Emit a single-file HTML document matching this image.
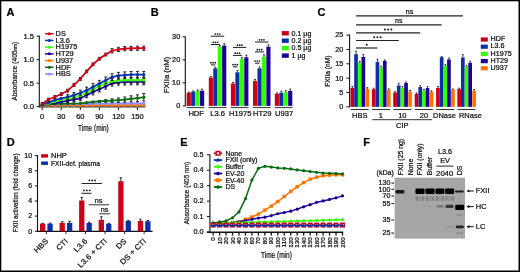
<!DOCTYPE html>
<html><head><meta charset="utf-8"><title>Figure</title>
<style>
html,body{margin:0;padding:0;background:#fff;}
body{width:520px;height:272px;overflow:hidden;font-family:"Liberation Sans", sans-serif;}
svg{display:block;}
svg text{font-family:"Liberation Sans", sans-serif;stroke:#111;stroke-width:0.22px;}
svg{will-change:transform;}
</style></head><body>
<svg width="520" height="272" viewBox="0 0 520 272" font-family='"Liberation Sans", sans-serif'>
<defs><filter id="blur" x="-10%" y="-50%" width="120%" height="200%"><feGaussianBlur stdDeviation="0.75"/></filter></defs>
<rect x="0.00" y="0.00" width="520.00" height="272.00" fill="#fff"/>
<text x="6.40" y="15.90" font-size="10" text-anchor="start" fill="#000" font-weight="bold" transform="translate(6.40 15.90) scale(1.1 1) translate(-6.40 -15.90)">A</text>
<line x1="39.30" y1="35.60" x2="39.30" y2="107.20" stroke="#111" stroke-width="1.1"/>
<line x1="36.60" y1="106.60" x2="39.30" y2="106.60" stroke="#111" stroke-width="1.0"/>
<text x="34.00" y="108.98" font-size="6.8" text-anchor="end" fill="#0e0e0e" transform="translate(34.00 108.98) scale(1.12 1) translate(-34.00 -108.98)">0.0</text>
<line x1="36.60" y1="83.15" x2="39.30" y2="83.15" stroke="#111" stroke-width="1.0"/>
<text x="34.00" y="85.53" font-size="6.8" text-anchor="end" fill="#0e0e0e" transform="translate(34.00 85.53) scale(1.12 1) translate(-34.00 -85.53)">0.5</text>
<line x1="36.60" y1="59.70" x2="39.30" y2="59.70" stroke="#111" stroke-width="1.0"/>
<text x="34.00" y="62.08" font-size="6.8" text-anchor="end" fill="#0e0e0e" transform="translate(34.00 62.08) scale(1.12 1) translate(-34.00 -62.08)">1.0</text>
<line x1="36.60" y1="36.25" x2="39.30" y2="36.25" stroke="#111" stroke-width="1.0"/>
<text x="34.00" y="38.63" font-size="6.8" text-anchor="end" fill="#0e0e0e" transform="translate(34.00 38.63) scale(1.12 1) translate(-34.00 -38.63)">1.5</text>
<line x1="38.80" y1="106.90" x2="145.50" y2="106.90" stroke="#333" stroke-width="1.1"/>
<line x1="42.20" y1="106.90" x2="42.20" y2="110.00" stroke="#111" stroke-width="1.0"/>
<text x="42.20" y="118.58" font-size="6.8" text-anchor="middle" fill="#0e0e0e" transform="translate(42.20 118.58) scale(1.1 1) translate(-42.20 -118.58)">0</text>
<line x1="61.25" y1="106.90" x2="61.25" y2="110.00" stroke="#111" stroke-width="1.0"/>
<text x="61.25" y="118.58" font-size="6.8" text-anchor="middle" fill="#0e0e0e" transform="translate(61.25 118.58) scale(1.1 1) translate(-61.25 -118.58)">30</text>
<line x1="80.30" y1="106.90" x2="80.30" y2="110.00" stroke="#111" stroke-width="1.0"/>
<text x="80.30" y="118.58" font-size="6.8" text-anchor="middle" fill="#0e0e0e" transform="translate(80.30 118.58) scale(1.1 1) translate(-80.30 -118.58)">60</text>
<line x1="99.35" y1="106.90" x2="99.35" y2="110.00" stroke="#111" stroke-width="1.0"/>
<text x="99.35" y="118.58" font-size="6.8" text-anchor="middle" fill="#0e0e0e" transform="translate(99.35 118.58) scale(1.1 1) translate(-99.35 -118.58)">90</text>
<line x1="118.40" y1="106.90" x2="118.40" y2="110.00" stroke="#111" stroke-width="1.0"/>
<text x="118.40" y="118.58" font-size="6.8" text-anchor="middle" fill="#0e0e0e" transform="translate(118.40 118.58) scale(1.1 1) translate(-118.40 -118.58)">120</text>
<line x1="137.45" y1="106.90" x2="137.45" y2="110.00" stroke="#111" stroke-width="1.0"/>
<text x="137.45" y="118.58" font-size="6.8" text-anchor="middle" fill="#0e0e0e" transform="translate(137.45 118.58) scale(1.1 1) translate(-137.45 -118.58)">150</text>
<text x="93.40" y="130.68" font-size="8.5" text-anchor="middle" fill="#0e0e0e" textLength="30.60" lengthAdjust="spacingAndGlyphs">Time (min)</text>
<text x="14.6" y="71.2" font-size="7.8" text-anchor="middle" fill="#0e0e0e" transform="rotate(-90 14.6 71.2) translate(0 2.8)" textLength="58.8" lengthAdjust="spacingAndGlyphs">Absorbance (405<tspan font-size="5.6">nm</tspan>)</text>
<polyline points="42.20,105.19 48.55,105.19 54.90,105.19 61.25,105.19 67.60,105.19 73.95,105.19 80.30,105.19 86.65,105.19 93.00,105.19 99.35,105.19 105.70,105.19 112.05,105.19 118.40,105.19 124.75,105.19 131.10,105.19 137.45,105.19 143.80,105.19" fill="none" stroke="#ff7300" stroke-width="1.7" stroke-linejoin="round"/>
<polygon points="42.20,102.99 44.40,105.19 42.20,107.39 40.00,105.19" fill="#ff7300"/>
<polygon points="48.55,102.99 50.75,105.19 48.55,107.39 46.35,105.19" fill="#ff7300"/>
<polygon points="54.90,102.99 57.10,105.19 54.90,107.39 52.70,105.19" fill="#ff7300"/>
<polygon points="61.25,102.99 63.45,105.19 61.25,107.39 59.05,105.19" fill="#ff7300"/>
<polygon points="67.60,102.99 69.80,105.19 67.60,107.39 65.40,105.19" fill="#ff7300"/>
<polygon points="73.95,102.99 76.15,105.19 73.95,107.39 71.75,105.19" fill="#ff7300"/>
<polygon points="80.30,102.99 82.50,105.19 80.30,107.39 78.10,105.19" fill="#ff7300"/>
<polygon points="86.65,102.99 88.85,105.19 86.65,107.39 84.45,105.19" fill="#ff7300"/>
<polygon points="93.00,102.99 95.20,105.19 93.00,107.39 90.80,105.19" fill="#ff7300"/>
<polygon points="99.35,102.99 101.55,105.19 99.35,107.39 97.15,105.19" fill="#ff7300"/>
<polygon points="105.70,102.99 107.90,105.19 105.70,107.39 103.50,105.19" fill="#ff7300"/>
<polygon points="112.05,102.99 114.25,105.19 112.05,107.39 109.85,105.19" fill="#ff7300"/>
<polygon points="118.40,102.99 120.60,105.19 118.40,107.39 116.20,105.19" fill="#ff7300"/>
<polygon points="124.75,102.99 126.95,105.19 124.75,107.39 122.55,105.19" fill="#ff7300"/>
<polygon points="131.10,102.99 133.30,105.19 131.10,107.39 128.90,105.19" fill="#ff7300"/>
<polygon points="137.45,102.99 139.65,105.19 137.45,107.39 135.25,105.19" fill="#ff7300"/>
<polygon points="143.80,102.99 146.00,105.19 143.80,107.39 141.60,105.19" fill="#ff7300"/>
<polyline points="42.20,104.49 48.55,104.35 54.90,104.25 61.25,104.16 67.60,104.07 73.95,103.97 80.30,103.88 86.65,103.79 93.00,103.69 99.35,103.60 105.70,103.55 112.05,103.50 118.40,103.46 124.75,103.41 131.10,103.41 137.45,103.41 143.80,103.41" fill="none" stroke="#8c8cff" stroke-width="1.7" stroke-linejoin="round"/>
<circle cx="42.20" cy="104.49" r="1.6" fill="#8c8cff"/>
<circle cx="48.55" cy="104.35" r="1.6" fill="#8c8cff"/>
<circle cx="54.90" cy="104.25" r="1.6" fill="#8c8cff"/>
<circle cx="61.25" cy="104.16" r="1.6" fill="#8c8cff"/>
<circle cx="67.60" cy="104.07" r="1.6" fill="#8c8cff"/>
<circle cx="73.95" cy="103.97" r="1.6" fill="#8c8cff"/>
<circle cx="80.30" cy="103.88" r="1.6" fill="#8c8cff"/>
<circle cx="86.65" cy="103.79" r="1.6" fill="#8c8cff"/>
<circle cx="93.00" cy="103.69" r="1.6" fill="#8c8cff"/>
<circle cx="99.35" cy="103.60" r="1.6" fill="#8c8cff"/>
<circle cx="105.70" cy="103.55" r="1.6" fill="#8c8cff"/>
<circle cx="112.05" cy="103.50" r="1.6" fill="#8c8cff"/>
<circle cx="118.40" cy="103.46" r="1.6" fill="#8c8cff"/>
<circle cx="124.75" cy="103.41" r="1.6" fill="#8c8cff"/>
<circle cx="131.10" cy="103.41" r="1.6" fill="#8c8cff"/>
<circle cx="137.45" cy="103.41" r="1.6" fill="#8c8cff"/>
<circle cx="143.80" cy="103.41" r="1.6" fill="#8c8cff"/>
<line x1="99.35" y1="100.50" x2="99.35" y2="102.38" stroke="#111" stroke-width="0.9"/>
<line x1="97.85" y1="100.50" x2="100.85" y2="100.50" stroke="#111" stroke-width="0.9"/>
<line x1="97.85" y1="102.38" x2="100.85" y2="102.38" stroke="#111" stroke-width="0.9"/>
<line x1="105.70" y1="99.63" x2="105.70" y2="102.31" stroke="#111" stroke-width="0.9"/>
<line x1="104.20" y1="99.63" x2="107.20" y2="99.63" stroke="#111" stroke-width="0.9"/>
<line x1="104.20" y1="102.31" x2="107.20" y2="102.31" stroke="#111" stroke-width="0.9"/>
<line x1="112.05" y1="98.85" x2="112.05" y2="102.34" stroke="#111" stroke-width="0.9"/>
<line x1="110.55" y1="98.85" x2="113.55" y2="98.85" stroke="#111" stroke-width="0.9"/>
<line x1="110.55" y1="102.34" x2="113.55" y2="102.34" stroke="#111" stroke-width="0.9"/>
<line x1="118.40" y1="97.98" x2="118.40" y2="102.27" stroke="#111" stroke-width="0.9"/>
<line x1="116.90" y1="97.98" x2="119.90" y2="97.98" stroke="#111" stroke-width="0.9"/>
<line x1="116.90" y1="102.27" x2="119.90" y2="102.27" stroke="#111" stroke-width="0.9"/>
<line x1="124.75" y1="97.02" x2="124.75" y2="102.11" stroke="#111" stroke-width="0.9"/>
<line x1="123.25" y1="97.02" x2="126.25" y2="97.02" stroke="#111" stroke-width="0.9"/>
<line x1="123.25" y1="102.11" x2="126.25" y2="102.11" stroke="#111" stroke-width="0.9"/>
<line x1="131.10" y1="95.87" x2="131.10" y2="101.76" stroke="#111" stroke-width="0.9"/>
<line x1="129.60" y1="95.87" x2="132.60" y2="95.87" stroke="#111" stroke-width="0.9"/>
<line x1="129.60" y1="101.76" x2="132.60" y2="101.76" stroke="#111" stroke-width="0.9"/>
<line x1="137.45" y1="94.81" x2="137.45" y2="101.51" stroke="#111" stroke-width="0.9"/>
<line x1="135.95" y1="94.81" x2="138.95" y2="94.81" stroke="#111" stroke-width="0.9"/>
<line x1="135.95" y1="101.51" x2="138.95" y2="101.51" stroke="#111" stroke-width="0.9"/>
<line x1="143.80" y1="93.47" x2="143.80" y2="100.97" stroke="#111" stroke-width="0.9"/>
<line x1="142.30" y1="93.47" x2="145.30" y2="93.47" stroke="#111" stroke-width="0.9"/>
<line x1="142.30" y1="100.97" x2="145.30" y2="100.97" stroke="#111" stroke-width="0.9"/>
<polyline points="42.20,104.72 48.55,104.25 54.90,103.79 61.25,103.69 67.60,103.60 73.95,103.50 80.30,103.32 86.65,102.61 93.00,101.91 99.35,101.44 105.70,100.97 112.05,100.60 118.40,100.13 124.75,99.56 131.10,98.81 137.45,98.16 143.80,97.22" fill="none" stroke="#0b6b12" stroke-width="1.7" stroke-linejoin="round"/>
<circle cx="42.20" cy="104.72" r="1.6" fill="#0b6b12"/>
<circle cx="48.55" cy="104.25" r="1.6" fill="#0b6b12"/>
<circle cx="54.90" cy="103.79" r="1.6" fill="#0b6b12"/>
<circle cx="61.25" cy="103.69" r="1.6" fill="#0b6b12"/>
<circle cx="67.60" cy="103.60" r="1.6" fill="#0b6b12"/>
<circle cx="73.95" cy="103.50" r="1.6" fill="#0b6b12"/>
<circle cx="80.30" cy="103.32" r="1.6" fill="#0b6b12"/>
<circle cx="86.65" cy="102.61" r="1.6" fill="#0b6b12"/>
<circle cx="93.00" cy="101.91" r="1.6" fill="#0b6b12"/>
<circle cx="99.35" cy="101.44" r="1.6" fill="#0b6b12"/>
<circle cx="105.70" cy="100.97" r="1.6" fill="#0b6b12"/>
<circle cx="112.05" cy="100.60" r="1.6" fill="#0b6b12"/>
<circle cx="118.40" cy="100.13" r="1.6" fill="#0b6b12"/>
<circle cx="124.75" cy="99.56" r="1.6" fill="#0b6b12"/>
<circle cx="131.10" cy="98.81" r="1.6" fill="#0b6b12"/>
<circle cx="137.45" cy="98.16" r="1.6" fill="#0b6b12"/>
<circle cx="143.80" cy="97.22" r="1.6" fill="#0b6b12"/>
<line x1="67.60" y1="98.81" x2="67.60" y2="102.75" stroke="#111" stroke-width="0.9"/>
<line x1="66.10" y1="98.81" x2="69.10" y2="98.81" stroke="#111" stroke-width="0.9"/>
<line x1="66.10" y1="102.75" x2="69.10" y2="102.75" stroke="#111" stroke-width="0.9"/>
<line x1="73.95" y1="97.24" x2="73.95" y2="101.61" stroke="#111" stroke-width="0.9"/>
<line x1="72.45" y1="97.24" x2="75.45" y2="97.24" stroke="#111" stroke-width="0.9"/>
<line x1="72.45" y1="101.61" x2="75.45" y2="101.61" stroke="#111" stroke-width="0.9"/>
<line x1="80.30" y1="96.00" x2="80.30" y2="100.78" stroke="#111" stroke-width="0.9"/>
<line x1="78.80" y1="96.00" x2="81.80" y2="96.00" stroke="#111" stroke-width="0.9"/>
<line x1="78.80" y1="100.78" x2="81.80" y2="100.78" stroke="#111" stroke-width="0.9"/>
<line x1="86.65" y1="92.51" x2="86.65" y2="97.71" stroke="#111" stroke-width="0.9"/>
<line x1="85.15" y1="92.51" x2="88.15" y2="92.51" stroke="#111" stroke-width="0.9"/>
<line x1="85.15" y1="97.71" x2="88.15" y2="97.71" stroke="#111" stroke-width="0.9"/>
<line x1="93.00" y1="89.25" x2="93.00" y2="94.88" stroke="#111" stroke-width="0.9"/>
<line x1="91.50" y1="89.25" x2="94.50" y2="89.25" stroke="#111" stroke-width="0.9"/>
<line x1="91.50" y1="94.88" x2="94.50" y2="94.88" stroke="#111" stroke-width="0.9"/>
<line x1="99.35" y1="86.39" x2="99.35" y2="92.01" stroke="#111" stroke-width="0.9"/>
<line x1="97.85" y1="86.39" x2="100.85" y2="86.39" stroke="#111" stroke-width="0.9"/>
<line x1="97.85" y1="92.01" x2="100.85" y2="92.01" stroke="#111" stroke-width="0.9"/>
<line x1="105.70" y1="83.48" x2="105.70" y2="89.11" stroke="#111" stroke-width="0.9"/>
<line x1="104.20" y1="83.48" x2="107.20" y2="83.48" stroke="#111" stroke-width="0.9"/>
<line x1="104.20" y1="89.11" x2="107.20" y2="89.11" stroke="#111" stroke-width="0.9"/>
<line x1="112.05" y1="80.48" x2="112.05" y2="86.10" stroke="#111" stroke-width="0.9"/>
<line x1="110.55" y1="80.48" x2="113.55" y2="80.48" stroke="#111" stroke-width="0.9"/>
<line x1="110.55" y1="86.10" x2="113.55" y2="86.10" stroke="#111" stroke-width="0.9"/>
<line x1="118.40" y1="79.49" x2="118.40" y2="85.12" stroke="#111" stroke-width="0.9"/>
<line x1="116.90" y1="79.49" x2="119.90" y2="79.49" stroke="#111" stroke-width="0.9"/>
<line x1="116.90" y1="85.12" x2="119.90" y2="85.12" stroke="#111" stroke-width="0.9"/>
<line x1="124.75" y1="79.30" x2="124.75" y2="84.93" stroke="#111" stroke-width="0.9"/>
<line x1="123.25" y1="79.30" x2="126.25" y2="79.30" stroke="#111" stroke-width="0.9"/>
<line x1="123.25" y1="84.93" x2="126.25" y2="84.93" stroke="#111" stroke-width="0.9"/>
<line x1="131.10" y1="79.16" x2="131.10" y2="84.79" stroke="#111" stroke-width="0.9"/>
<line x1="129.60" y1="79.16" x2="132.60" y2="79.16" stroke="#111" stroke-width="0.9"/>
<line x1="129.60" y1="84.79" x2="132.60" y2="84.79" stroke="#111" stroke-width="0.9"/>
<line x1="137.45" y1="79.16" x2="137.45" y2="84.79" stroke="#111" stroke-width="0.9"/>
<line x1="135.95" y1="79.16" x2="138.95" y2="79.16" stroke="#111" stroke-width="0.9"/>
<line x1="135.95" y1="84.79" x2="138.95" y2="84.79" stroke="#111" stroke-width="0.9"/>
<line x1="143.80" y1="79.16" x2="143.80" y2="84.79" stroke="#111" stroke-width="0.9"/>
<line x1="142.30" y1="79.16" x2="145.30" y2="79.16" stroke="#111" stroke-width="0.9"/>
<line x1="142.30" y1="84.79" x2="145.30" y2="84.79" stroke="#111" stroke-width="0.9"/>
<polyline points="42.20,104.72 48.55,104.02 54.90,103.08 61.25,101.91 67.60,100.78 73.95,99.42 80.30,98.39 86.65,95.11 93.00,92.06 99.35,89.20 105.70,86.29 112.05,83.29 118.40,82.31 124.75,82.12 131.10,81.98 137.45,81.98 143.80,81.98" fill="none" stroke="#1e0099" stroke-width="1.7" stroke-linejoin="round"/>
<circle cx="42.20" cy="104.72" r="1.6" fill="#1e0099"/>
<circle cx="48.55" cy="104.02" r="1.6" fill="#1e0099"/>
<circle cx="54.90" cy="103.08" r="1.6" fill="#1e0099"/>
<circle cx="61.25" cy="101.91" r="1.6" fill="#1e0099"/>
<circle cx="67.60" cy="100.78" r="1.6" fill="#1e0099"/>
<circle cx="73.95" cy="99.42" r="1.6" fill="#1e0099"/>
<circle cx="80.30" cy="98.39" r="1.6" fill="#1e0099"/>
<circle cx="86.65" cy="95.11" r="1.6" fill="#1e0099"/>
<circle cx="93.00" cy="92.06" r="1.6" fill="#1e0099"/>
<circle cx="99.35" cy="89.20" r="1.6" fill="#1e0099"/>
<circle cx="105.70" cy="86.29" r="1.6" fill="#1e0099"/>
<circle cx="112.05" cy="83.29" r="1.6" fill="#1e0099"/>
<circle cx="118.40" cy="82.31" r="1.6" fill="#1e0099"/>
<circle cx="124.75" cy="82.12" r="1.6" fill="#1e0099"/>
<circle cx="131.10" cy="81.98" r="1.6" fill="#1e0099"/>
<circle cx="137.45" cy="81.98" r="1.6" fill="#1e0099"/>
<circle cx="143.80" cy="81.98" r="1.6" fill="#1e0099"/>
<line x1="67.60" y1="96.42" x2="67.60" y2="100.36" stroke="#111" stroke-width="0.9"/>
<line x1="66.10" y1="96.42" x2="69.10" y2="96.42" stroke="#111" stroke-width="0.9"/>
<line x1="66.10" y1="100.36" x2="69.10" y2="100.36" stroke="#111" stroke-width="0.9"/>
<line x1="73.95" y1="94.80" x2="73.95" y2="99.17" stroke="#111" stroke-width="0.9"/>
<line x1="72.45" y1="94.80" x2="75.45" y2="94.80" stroke="#111" stroke-width="0.9"/>
<line x1="72.45" y1="99.17" x2="75.45" y2="99.17" stroke="#111" stroke-width="0.9"/>
<line x1="80.30" y1="93.09" x2="80.30" y2="97.88" stroke="#111" stroke-width="0.9"/>
<line x1="78.80" y1="93.09" x2="81.80" y2="93.09" stroke="#111" stroke-width="0.9"/>
<line x1="78.80" y1="97.88" x2="81.80" y2="97.88" stroke="#111" stroke-width="0.9"/>
<line x1="86.65" y1="90.11" x2="86.65" y2="95.32" stroke="#111" stroke-width="0.9"/>
<line x1="85.15" y1="90.11" x2="88.15" y2="90.11" stroke="#111" stroke-width="0.9"/>
<line x1="85.15" y1="95.32" x2="88.15" y2="95.32" stroke="#111" stroke-width="0.9"/>
<line x1="93.00" y1="86.43" x2="93.00" y2="92.06" stroke="#111" stroke-width="0.9"/>
<line x1="91.50" y1="86.43" x2="94.50" y2="86.43" stroke="#111" stroke-width="0.9"/>
<line x1="91.50" y1="92.06" x2="94.50" y2="92.06" stroke="#111" stroke-width="0.9"/>
<line x1="99.35" y1="83.48" x2="99.35" y2="89.11" stroke="#111" stroke-width="0.9"/>
<line x1="97.85" y1="83.48" x2="100.85" y2="83.48" stroke="#111" stroke-width="0.9"/>
<line x1="97.85" y1="89.11" x2="100.85" y2="89.11" stroke="#111" stroke-width="0.9"/>
<line x1="105.70" y1="80.48" x2="105.70" y2="86.10" stroke="#111" stroke-width="0.9"/>
<line x1="104.20" y1="80.48" x2="107.20" y2="80.48" stroke="#111" stroke-width="0.9"/>
<line x1="104.20" y1="86.10" x2="107.20" y2="86.10" stroke="#111" stroke-width="0.9"/>
<line x1="112.05" y1="78.46" x2="112.05" y2="84.09" stroke="#111" stroke-width="0.9"/>
<line x1="110.55" y1="78.46" x2="113.55" y2="78.46" stroke="#111" stroke-width="0.9"/>
<line x1="110.55" y1="84.09" x2="113.55" y2="84.09" stroke="#111" stroke-width="0.9"/>
<line x1="118.40" y1="77.85" x2="118.40" y2="83.48" stroke="#111" stroke-width="0.9"/>
<line x1="116.90" y1="77.85" x2="119.90" y2="77.85" stroke="#111" stroke-width="0.9"/>
<line x1="116.90" y1="83.48" x2="119.90" y2="83.48" stroke="#111" stroke-width="0.9"/>
<line x1="124.75" y1="77.29" x2="124.75" y2="82.92" stroke="#111" stroke-width="0.9"/>
<line x1="123.25" y1="77.29" x2="126.25" y2="77.29" stroke="#111" stroke-width="0.9"/>
<line x1="123.25" y1="82.92" x2="126.25" y2="82.92" stroke="#111" stroke-width="0.9"/>
<line x1="131.10" y1="77.29" x2="131.10" y2="82.92" stroke="#111" stroke-width="0.9"/>
<line x1="129.60" y1="77.29" x2="132.60" y2="77.29" stroke="#111" stroke-width="0.9"/>
<line x1="129.60" y1="82.92" x2="132.60" y2="82.92" stroke="#111" stroke-width="0.9"/>
<line x1="137.45" y1="77.29" x2="137.45" y2="82.92" stroke="#111" stroke-width="0.9"/>
<line x1="135.95" y1="77.29" x2="138.95" y2="77.29" stroke="#111" stroke-width="0.9"/>
<line x1="135.95" y1="82.92" x2="138.95" y2="82.92" stroke="#111" stroke-width="0.9"/>
<line x1="143.80" y1="77.29" x2="143.80" y2="82.92" stroke="#111" stroke-width="0.9"/>
<line x1="142.30" y1="77.29" x2="145.30" y2="77.29" stroke="#111" stroke-width="0.9"/>
<line x1="142.30" y1="82.92" x2="145.30" y2="82.92" stroke="#111" stroke-width="0.9"/>
<polyline points="42.20,104.49 48.55,103.32 54.90,101.44 61.25,99.42 67.60,98.39 73.95,96.99 80.30,95.48 86.65,92.72 93.00,89.25 99.35,86.29 105.70,83.29 112.05,81.27 118.40,80.66 124.75,80.10 131.10,80.10 137.45,80.10 143.80,80.10" fill="none" stroke="#33ff00" stroke-width="1.7" stroke-linejoin="round"/>
<circle cx="42.20" cy="104.49" r="1.6" fill="#33ff00"/>
<circle cx="48.55" cy="103.32" r="1.6" fill="#33ff00"/>
<circle cx="54.90" cy="101.44" r="1.6" fill="#33ff00"/>
<circle cx="61.25" cy="99.42" r="1.6" fill="#33ff00"/>
<circle cx="67.60" cy="98.39" r="1.6" fill="#33ff00"/>
<circle cx="73.95" cy="96.99" r="1.6" fill="#33ff00"/>
<circle cx="80.30" cy="95.48" r="1.6" fill="#33ff00"/>
<circle cx="86.65" cy="92.72" r="1.6" fill="#33ff00"/>
<circle cx="93.00" cy="89.25" r="1.6" fill="#33ff00"/>
<circle cx="99.35" cy="86.29" r="1.6" fill="#33ff00"/>
<circle cx="105.70" cy="83.29" r="1.6" fill="#33ff00"/>
<circle cx="112.05" cy="81.27" r="1.6" fill="#33ff00"/>
<circle cx="118.40" cy="80.66" r="1.6" fill="#33ff00"/>
<circle cx="124.75" cy="80.10" r="1.6" fill="#33ff00"/>
<circle cx="131.10" cy="80.10" r="1.6" fill="#33ff00"/>
<circle cx="137.45" cy="80.10" r="1.6" fill="#33ff00"/>
<circle cx="143.80" cy="80.10" r="1.6" fill="#33ff00"/>
<line x1="67.60" y1="94.69" x2="67.60" y2="99.28" stroke="#111" stroke-width="0.9"/>
<line x1="66.10" y1="94.69" x2="69.10" y2="94.69" stroke="#111" stroke-width="0.9"/>
<line x1="66.10" y1="99.28" x2="69.10" y2="99.28" stroke="#111" stroke-width="0.9"/>
<line x1="73.95" y1="92.57" x2="73.95" y2="97.65" stroke="#111" stroke-width="0.9"/>
<line x1="72.45" y1="92.57" x2="75.45" y2="92.57" stroke="#111" stroke-width="0.9"/>
<line x1="72.45" y1="97.65" x2="75.45" y2="97.65" stroke="#111" stroke-width="0.9"/>
<line x1="80.30" y1="90.21" x2="80.30" y2="95.79" stroke="#111" stroke-width="0.9"/>
<line x1="78.80" y1="90.21" x2="81.80" y2="90.21" stroke="#111" stroke-width="0.9"/>
<line x1="78.80" y1="95.79" x2="81.80" y2="95.79" stroke="#111" stroke-width="0.9"/>
<line x1="86.65" y1="87.15" x2="86.65" y2="93.22" stroke="#111" stroke-width="0.9"/>
<line x1="85.15" y1="87.15" x2="88.15" y2="87.15" stroke="#111" stroke-width="0.9"/>
<line x1="85.15" y1="93.22" x2="88.15" y2="93.22" stroke="#111" stroke-width="0.9"/>
<line x1="93.00" y1="83.62" x2="93.00" y2="90.19" stroke="#111" stroke-width="0.9"/>
<line x1="91.50" y1="83.62" x2="94.50" y2="83.62" stroke="#111" stroke-width="0.9"/>
<line x1="91.50" y1="90.19" x2="94.50" y2="90.19" stroke="#111" stroke-width="0.9"/>
<line x1="99.35" y1="80.34" x2="99.35" y2="86.90" stroke="#111" stroke-width="0.9"/>
<line x1="97.85" y1="80.34" x2="100.85" y2="80.34" stroke="#111" stroke-width="0.9"/>
<line x1="97.85" y1="86.90" x2="100.85" y2="86.90" stroke="#111" stroke-width="0.9"/>
<line x1="105.70" y1="77.05" x2="105.70" y2="83.62" stroke="#111" stroke-width="0.9"/>
<line x1="104.20" y1="77.05" x2="107.20" y2="77.05" stroke="#111" stroke-width="0.9"/>
<line x1="104.20" y1="83.62" x2="107.20" y2="83.62" stroke="#111" stroke-width="0.9"/>
<line x1="112.05" y1="73.77" x2="112.05" y2="80.34" stroke="#111" stroke-width="0.9"/>
<line x1="110.55" y1="73.77" x2="113.55" y2="73.77" stroke="#111" stroke-width="0.9"/>
<line x1="110.55" y1="80.34" x2="113.55" y2="80.34" stroke="#111" stroke-width="0.9"/>
<line x1="118.40" y1="72.36" x2="118.40" y2="78.93" stroke="#111" stroke-width="0.9"/>
<line x1="116.90" y1="72.36" x2="119.90" y2="72.36" stroke="#111" stroke-width="0.9"/>
<line x1="116.90" y1="78.93" x2="119.90" y2="78.93" stroke="#111" stroke-width="0.9"/>
<line x1="124.75" y1="71.89" x2="124.75" y2="78.46" stroke="#111" stroke-width="0.9"/>
<line x1="123.25" y1="71.89" x2="126.25" y2="71.89" stroke="#111" stroke-width="0.9"/>
<line x1="123.25" y1="78.46" x2="126.25" y2="78.46" stroke="#111" stroke-width="0.9"/>
<line x1="131.10" y1="71.42" x2="131.10" y2="77.99" stroke="#111" stroke-width="0.9"/>
<line x1="129.60" y1="71.42" x2="132.60" y2="71.42" stroke="#111" stroke-width="0.9"/>
<line x1="129.60" y1="77.99" x2="132.60" y2="77.99" stroke="#111" stroke-width="0.9"/>
<line x1="137.45" y1="71.42" x2="137.45" y2="77.99" stroke="#111" stroke-width="0.9"/>
<line x1="135.95" y1="71.42" x2="138.95" y2="71.42" stroke="#111" stroke-width="0.9"/>
<line x1="135.95" y1="77.99" x2="138.95" y2="77.99" stroke="#111" stroke-width="0.9"/>
<line x1="143.80" y1="71.42" x2="143.80" y2="77.99" stroke="#111" stroke-width="0.9"/>
<line x1="142.30" y1="71.42" x2="145.30" y2="71.42" stroke="#111" stroke-width="0.9"/>
<line x1="142.30" y1="77.99" x2="145.30" y2="77.99" stroke="#111" stroke-width="0.9"/>
<polyline points="42.20,104.25 48.55,102.38 54.90,100.03 61.25,98.39 67.60,96.99 73.95,95.11 80.30,93.00 86.65,90.19 93.00,86.90 99.35,83.62 105.70,80.34 112.05,77.05 118.40,75.65 124.75,75.18 131.10,74.71 137.45,74.71 143.80,74.71" fill="none" stroke="#0a30a8" stroke-width="1.7" stroke-linejoin="round"/>
<circle cx="42.20" cy="104.25" r="1.6" fill="#0a30a8"/>
<circle cx="48.55" cy="102.38" r="1.6" fill="#0a30a8"/>
<circle cx="54.90" cy="100.03" r="1.6" fill="#0a30a8"/>
<circle cx="61.25" cy="98.39" r="1.6" fill="#0a30a8"/>
<circle cx="67.60" cy="96.99" r="1.6" fill="#0a30a8"/>
<circle cx="73.95" cy="95.11" r="1.6" fill="#0a30a8"/>
<circle cx="80.30" cy="93.00" r="1.6" fill="#0a30a8"/>
<circle cx="86.65" cy="90.19" r="1.6" fill="#0a30a8"/>
<circle cx="93.00" cy="86.90" r="1.6" fill="#0a30a8"/>
<circle cx="99.35" cy="83.62" r="1.6" fill="#0a30a8"/>
<circle cx="105.70" cy="80.34" r="1.6" fill="#0a30a8"/>
<circle cx="112.05" cy="77.05" r="1.6" fill="#0a30a8"/>
<circle cx="118.40" cy="75.65" r="1.6" fill="#0a30a8"/>
<circle cx="124.75" cy="75.18" r="1.6" fill="#0a30a8"/>
<circle cx="131.10" cy="74.71" r="1.6" fill="#0a30a8"/>
<circle cx="137.45" cy="74.71" r="1.6" fill="#0a30a8"/>
<circle cx="143.80" cy="74.71" r="1.6" fill="#0a30a8"/>
<line x1="42.20" y1="102.38" x2="42.20" y2="105.19" stroke="#111" stroke-width="0.9"/>
<line x1="40.70" y1="102.38" x2="43.70" y2="102.38" stroke="#111" stroke-width="0.9"/>
<line x1="40.70" y1="105.19" x2="43.70" y2="105.19" stroke="#111" stroke-width="0.9"/>
<line x1="48.55" y1="98.16" x2="48.55" y2="100.97" stroke="#111" stroke-width="0.9"/>
<line x1="47.05" y1="98.16" x2="50.05" y2="98.16" stroke="#111" stroke-width="0.9"/>
<line x1="47.05" y1="100.97" x2="50.05" y2="100.97" stroke="#111" stroke-width="0.9"/>
<line x1="54.90" y1="95.58" x2="54.90" y2="98.39" stroke="#111" stroke-width="0.9"/>
<line x1="53.40" y1="95.58" x2="56.40" y2="95.58" stroke="#111" stroke-width="0.9"/>
<line x1="53.40" y1="98.39" x2="56.40" y2="98.39" stroke="#111" stroke-width="0.9"/>
<line x1="61.25" y1="92.67" x2="61.25" y2="95.48" stroke="#111" stroke-width="0.9"/>
<line x1="59.75" y1="92.67" x2="62.75" y2="92.67" stroke="#111" stroke-width="0.9"/>
<line x1="59.75" y1="95.48" x2="62.75" y2="95.48" stroke="#111" stroke-width="0.9"/>
<line x1="67.60" y1="89.25" x2="67.60" y2="92.06" stroke="#111" stroke-width="0.9"/>
<line x1="66.10" y1="89.25" x2="69.10" y2="89.25" stroke="#111" stroke-width="0.9"/>
<line x1="66.10" y1="92.06" x2="69.10" y2="92.06" stroke="#111" stroke-width="0.9"/>
<line x1="73.95" y1="83.62" x2="73.95" y2="86.43" stroke="#111" stroke-width="0.9"/>
<line x1="72.45" y1="83.62" x2="75.45" y2="83.62" stroke="#111" stroke-width="0.9"/>
<line x1="72.45" y1="86.43" x2="75.45" y2="86.43" stroke="#111" stroke-width="0.9"/>
<line x1="80.30" y1="77.52" x2="80.30" y2="80.34" stroke="#111" stroke-width="0.9"/>
<line x1="78.80" y1="77.52" x2="81.80" y2="77.52" stroke="#111" stroke-width="0.9"/>
<line x1="78.80" y1="80.34" x2="81.80" y2="80.34" stroke="#111" stroke-width="0.9"/>
<line x1="86.65" y1="70.02" x2="86.65" y2="72.83" stroke="#111" stroke-width="0.9"/>
<line x1="85.15" y1="70.02" x2="88.15" y2="70.02" stroke="#111" stroke-width="0.9"/>
<line x1="85.15" y1="72.83" x2="88.15" y2="72.83" stroke="#111" stroke-width="0.9"/>
<line x1="93.00" y1="62.98" x2="93.00" y2="65.80" stroke="#111" stroke-width="0.9"/>
<line x1="91.50" y1="62.98" x2="94.50" y2="62.98" stroke="#111" stroke-width="0.9"/>
<line x1="91.50" y1="65.80" x2="94.50" y2="65.80" stroke="#111" stroke-width="0.9"/>
<line x1="99.35" y1="57.35" x2="99.35" y2="60.17" stroke="#111" stroke-width="0.9"/>
<line x1="97.85" y1="57.35" x2="100.85" y2="57.35" stroke="#111" stroke-width="0.9"/>
<line x1="97.85" y1="60.17" x2="100.85" y2="60.17" stroke="#111" stroke-width="0.9"/>
<line x1="105.70" y1="53.13" x2="105.70" y2="55.95" stroke="#111" stroke-width="0.9"/>
<line x1="104.20" y1="53.13" x2="107.20" y2="53.13" stroke="#111" stroke-width="0.9"/>
<line x1="104.20" y1="55.95" x2="107.20" y2="55.95" stroke="#111" stroke-width="0.9"/>
<line x1="112.05" y1="48.68" x2="112.05" y2="52.90" stroke="#111" stroke-width="0.9"/>
<line x1="110.55" y1="48.68" x2="113.55" y2="48.68" stroke="#111" stroke-width="0.9"/>
<line x1="110.55" y1="52.90" x2="113.55" y2="52.90" stroke="#111" stroke-width="0.9"/>
<line x1="118.40" y1="47.27" x2="118.40" y2="51.49" stroke="#111" stroke-width="0.9"/>
<line x1="116.90" y1="47.27" x2="119.90" y2="47.27" stroke="#111" stroke-width="0.9"/>
<line x1="116.90" y1="51.49" x2="119.90" y2="51.49" stroke="#111" stroke-width="0.9"/>
<line x1="124.75" y1="46.57" x2="124.75" y2="50.79" stroke="#111" stroke-width="0.9"/>
<line x1="123.25" y1="46.57" x2="126.25" y2="46.57" stroke="#111" stroke-width="0.9"/>
<line x1="123.25" y1="50.79" x2="126.25" y2="50.79" stroke="#111" stroke-width="0.9"/>
<line x1="131.10" y1="46.33" x2="131.10" y2="50.55" stroke="#111" stroke-width="0.9"/>
<line x1="129.60" y1="46.33" x2="132.60" y2="46.33" stroke="#111" stroke-width="0.9"/>
<line x1="129.60" y1="50.55" x2="132.60" y2="50.55" stroke="#111" stroke-width="0.9"/>
<line x1="137.45" y1="46.10" x2="137.45" y2="50.32" stroke="#111" stroke-width="0.9"/>
<line x1="135.95" y1="46.10" x2="138.95" y2="46.10" stroke="#111" stroke-width="0.9"/>
<line x1="135.95" y1="50.32" x2="138.95" y2="50.32" stroke="#111" stroke-width="0.9"/>
<line x1="143.80" y1="46.10" x2="143.80" y2="50.32" stroke="#111" stroke-width="0.9"/>
<line x1="142.30" y1="46.10" x2="145.30" y2="46.10" stroke="#111" stroke-width="0.9"/>
<line x1="142.30" y1="50.32" x2="145.30" y2="50.32" stroke="#111" stroke-width="0.9"/>
<polyline points="42.20,103.79 48.55,99.56 54.90,96.99 61.25,94.08 67.60,90.65 73.95,85.03 80.30,78.93 86.65,71.42 93.00,64.39 99.35,58.76 105.70,54.54 112.05,50.79 118.40,49.38 124.75,48.68 131.10,48.44 137.45,48.21 143.80,48.21" fill="none" stroke="#cc0016" stroke-width="1.7" stroke-linejoin="round"/>
<circle cx="42.20" cy="103.79" r="1.6" fill="#cc0016"/>
<circle cx="48.55" cy="99.56" r="1.6" fill="#cc0016"/>
<circle cx="54.90" cy="96.99" r="1.6" fill="#cc0016"/>
<circle cx="61.25" cy="94.08" r="1.6" fill="#cc0016"/>
<circle cx="67.60" cy="90.65" r="1.6" fill="#cc0016"/>
<circle cx="73.95" cy="85.03" r="1.6" fill="#cc0016"/>
<circle cx="80.30" cy="78.93" r="1.6" fill="#cc0016"/>
<circle cx="86.65" cy="71.42" r="1.6" fill="#cc0016"/>
<circle cx="93.00" cy="64.39" r="1.6" fill="#cc0016"/>
<circle cx="99.35" cy="58.76" r="1.6" fill="#cc0016"/>
<circle cx="105.70" cy="54.54" r="1.6" fill="#cc0016"/>
<circle cx="112.05" cy="50.79" r="1.6" fill="#cc0016"/>
<circle cx="118.40" cy="49.38" r="1.6" fill="#cc0016"/>
<circle cx="124.75" cy="48.68" r="1.6" fill="#cc0016"/>
<circle cx="131.10" cy="48.44" r="1.6" fill="#cc0016"/>
<circle cx="137.45" cy="48.21" r="1.6" fill="#cc0016"/>
<circle cx="143.80" cy="48.21" r="1.6" fill="#cc0016"/>
<line x1="45.00" y1="33.70" x2="53.50" y2="33.70" stroke="#cc0016" stroke-width="1.5"/>
<circle cx="49.3" cy="33.70" r="1.5" fill="#cc0016"/>
<text x="55.60" y="36.05" font-size="6.7" text-anchor="start" fill="#0e0e0e" transform="translate(55.60 36.05) scale(1.1 1) translate(-55.60 -36.05)">DS</text>
<line x1="45.00" y1="40.42" x2="53.50" y2="40.42" stroke="#0a30a8" stroke-width="1.5"/>
<circle cx="49.3" cy="40.42" r="1.5" fill="#0a30a8"/>
<text x="55.60" y="42.77" font-size="6.7" text-anchor="start" fill="#0e0e0e" transform="translate(55.60 42.77) scale(1.1 1) translate(-55.60 -42.77)">L3.6</text>
<line x1="45.00" y1="47.14" x2="53.50" y2="47.14" stroke="#33ff00" stroke-width="1.5"/>
<circle cx="49.3" cy="47.14" r="1.5" fill="#33ff00"/>
<text x="55.60" y="49.48" font-size="6.7" text-anchor="start" fill="#0e0e0e" transform="translate(55.60 49.48) scale(1.1 1) translate(-55.60 -49.48)">H1975</text>
<line x1="45.00" y1="53.86" x2="53.50" y2="53.86" stroke="#1e0099" stroke-width="1.5"/>
<circle cx="49.3" cy="53.86" r="1.5" fill="#1e0099"/>
<text x="55.60" y="56.20" font-size="6.7" text-anchor="start" fill="#0e0e0e" transform="translate(55.60 56.20) scale(1.1 1) translate(-55.60 -56.20)">HT29</text>
<line x1="45.00" y1="60.58" x2="53.50" y2="60.58" stroke="#ff7300" stroke-width="1.5"/>
<circle cx="49.3" cy="60.58" r="1.5" fill="#ff7300"/>
<text x="55.60" y="62.92" font-size="6.7" text-anchor="start" fill="#0e0e0e" transform="translate(55.60 62.92) scale(1.1 1) translate(-55.60 -62.92)">U937</text>
<line x1="45.00" y1="67.30" x2="53.50" y2="67.30" stroke="#0b6b12" stroke-width="1.5"/>
<circle cx="49.3" cy="67.30" r="1.5" fill="#0b6b12"/>
<text x="55.60" y="69.65" font-size="6.7" text-anchor="start" fill="#0e0e0e" transform="translate(55.60 69.65) scale(1.1 1) translate(-55.60 -69.65)">HDF</text>
<line x1="45.00" y1="74.02" x2="53.50" y2="74.02" stroke="#8c8cff" stroke-width="1.5"/>
<circle cx="49.3" cy="74.02" r="1.5" fill="#8c8cff"/>
<text x="55.60" y="76.37" font-size="6.7" text-anchor="start" fill="#0e0e0e" transform="translate(55.60 76.37) scale(1.1 1) translate(-55.60 -76.37)">HBS</text>
<text x="150.80" y="15.90" font-size="10" text-anchor="start" fill="#000" font-weight="bold" transform="translate(150.80 15.90) scale(1.1 1) translate(-150.80 -15.90)">B</text>
<line x1="185.30" y1="36.40" x2="185.30" y2="106.30" stroke="#111" stroke-width="1.1"/>
<line x1="182.60" y1="105.90" x2="185.30" y2="105.90" stroke="#111" stroke-width="1.0"/>
<text x="180.20" y="108.28" font-size="6.8" text-anchor="end" fill="#0e0e0e" transform="translate(180.20 108.28) scale(1.07 1) translate(-180.20 -108.28)">0</text>
<line x1="182.60" y1="82.87" x2="185.30" y2="82.87" stroke="#111" stroke-width="1.0"/>
<text x="180.20" y="85.25" font-size="6.8" text-anchor="end" fill="#0e0e0e" transform="translate(180.20 85.25) scale(1.07 1) translate(-180.20 -85.25)">10</text>
<line x1="182.60" y1="59.84" x2="185.30" y2="59.84" stroke="#111" stroke-width="1.0"/>
<text x="180.20" y="62.22" font-size="6.8" text-anchor="end" fill="#0e0e0e" transform="translate(180.20 62.22) scale(1.07 1) translate(-180.20 -62.22)">20</text>
<line x1="182.60" y1="36.81" x2="185.30" y2="36.81" stroke="#111" stroke-width="1.0"/>
<text x="180.20" y="39.19" font-size="6.8" text-anchor="end" fill="#0e0e0e" transform="translate(180.20 39.19) scale(1.07 1) translate(-180.20 -39.19)">30</text>
<text x="166.5" y="75" font-size="7.0" text-anchor="middle" fill="#0e0e0e" transform="rotate(-90 166.5 75) translate(0 2.5)" textLength="36.5" lengthAdjust="spacingAndGlyphs">FXIIa (nM)</text>
<rect x="186.70" y="92.77" width="4.15" height="13.13" fill="#cc0016"/>
<line x1="188.77" y1="92.08" x2="188.77" y2="92.77" stroke="#111" stroke-width="0.8"/>
<line x1="187.77" y1="92.08" x2="189.77" y2="92.08" stroke="#111" stroke-width="0.8"/>
<rect x="191.15" y="91.62" width="4.15" height="14.28" fill="#0a30a8"/>
<line x1="193.22" y1="90.93" x2="193.22" y2="91.62" stroke="#111" stroke-width="0.8"/>
<line x1="192.22" y1="90.93" x2="194.22" y2="90.93" stroke="#111" stroke-width="0.8"/>
<rect x="195.60" y="90.93" width="4.15" height="14.97" fill="#33ff00"/>
<line x1="197.67" y1="90.01" x2="197.67" y2="90.93" stroke="#111" stroke-width="0.8"/>
<line x1="196.67" y1="90.01" x2="198.67" y2="90.01" stroke="#111" stroke-width="0.8"/>
<rect x="200.05" y="90.70" width="4.15" height="15.20" fill="#1e0099"/>
<line x1="202.12" y1="89.09" x2="202.12" y2="90.70" stroke="#111" stroke-width="0.8"/>
<line x1="201.12" y1="89.09" x2="203.12" y2="89.09" stroke="#111" stroke-width="0.8"/>
<line x1="186.50" y1="107.60" x2="204.40" y2="107.60" stroke="#333" stroke-width="1.0"/>
<text x="196.20" y="115.78" font-size="7.1" text-anchor="middle" fill="#0e0e0e" transform="translate(196.20 115.78) scale(1.07 1) translate(-196.20 -115.78)">HDF</text>
<rect x="208.80" y="77.57" width="4.15" height="28.33" fill="#cc0016"/>
<line x1="210.88" y1="76.42" x2="210.88" y2="77.57" stroke="#111" stroke-width="0.8"/>
<line x1="209.88" y1="76.42" x2="211.88" y2="76.42" stroke="#111" stroke-width="0.8"/>
<rect x="213.25" y="68.36" width="4.15" height="37.54" fill="#0a30a8"/>
<line x1="215.32" y1="67.21" x2="215.32" y2="68.36" stroke="#111" stroke-width="0.8"/>
<line x1="214.32" y1="67.21" x2="216.32" y2="67.21" stroke="#111" stroke-width="0.8"/>
<rect x="217.70" y="46.71" width="4.15" height="59.19" fill="#33ff00"/>
<line x1="219.78" y1="45.56" x2="219.78" y2="46.71" stroke="#111" stroke-width="0.8"/>
<line x1="218.78" y1="45.56" x2="220.78" y2="45.56" stroke="#111" stroke-width="0.8"/>
<rect x="222.15" y="45.56" width="4.15" height="60.34" fill="#1e0099"/>
<line x1="224.22" y1="43.72" x2="224.22" y2="45.56" stroke="#111" stroke-width="0.8"/>
<line x1="223.22" y1="43.72" x2="225.22" y2="43.72" stroke="#111" stroke-width="0.8"/>
<line x1="208.60" y1="107.60" x2="226.50" y2="107.60" stroke="#333" stroke-width="1.0"/>
<text x="217.70" y="115.78" font-size="7.1" text-anchor="middle" fill="#0e0e0e" transform="translate(217.70 115.78) scale(1.07 1) translate(-217.70 -115.78)">L3.6</text>
<rect x="230.90" y="83.56" width="4.15" height="22.34" fill="#cc0016"/>
<line x1="232.97" y1="82.41" x2="232.97" y2="83.56" stroke="#111" stroke-width="0.8"/>
<line x1="231.97" y1="82.41" x2="233.97" y2="82.41" stroke="#111" stroke-width="0.8"/>
<rect x="235.35" y="72.28" width="4.15" height="33.62" fill="#0a30a8"/>
<line x1="237.42" y1="70.43" x2="237.42" y2="72.28" stroke="#111" stroke-width="0.8"/>
<line x1="236.42" y1="70.43" x2="238.42" y2="70.43" stroke="#111" stroke-width="0.8"/>
<rect x="239.80" y="58.92" width="4.15" height="46.98" fill="#33ff00"/>
<line x1="241.88" y1="57.54" x2="241.88" y2="58.92" stroke="#111" stroke-width="0.8"/>
<line x1="240.88" y1="57.54" x2="242.88" y2="57.54" stroke="#111" stroke-width="0.8"/>
<rect x="244.25" y="57.31" width="4.15" height="48.59" fill="#1e0099"/>
<line x1="246.32" y1="55.23" x2="246.32" y2="57.31" stroke="#111" stroke-width="0.8"/>
<line x1="245.32" y1="55.23" x2="247.32" y2="55.23" stroke="#111" stroke-width="0.8"/>
<line x1="230.70" y1="107.60" x2="248.60" y2="107.60" stroke="#333" stroke-width="1.0"/>
<text x="240.20" y="115.78" font-size="7.1" text-anchor="middle" fill="#0e0e0e" transform="translate(240.20 115.78) scale(1.07 1) translate(-240.20 -115.78)">H1975</text>
<rect x="253.00" y="81.03" width="4.15" height="24.87" fill="#cc0016"/>
<line x1="255.07" y1="79.42" x2="255.07" y2="81.03" stroke="#111" stroke-width="0.8"/>
<line x1="254.07" y1="79.42" x2="256.07" y2="79.42" stroke="#111" stroke-width="0.8"/>
<rect x="257.45" y="68.36" width="4.15" height="37.54" fill="#0a30a8"/>
<line x1="259.52" y1="66.98" x2="259.52" y2="68.36" stroke="#111" stroke-width="0.8"/>
<line x1="258.52" y1="66.98" x2="260.52" y2="66.98" stroke="#111" stroke-width="0.8"/>
<rect x="261.90" y="56.62" width="4.15" height="49.28" fill="#33ff00"/>
<line x1="263.97" y1="54.77" x2="263.97" y2="56.62" stroke="#111" stroke-width="0.8"/>
<line x1="262.97" y1="54.77" x2="264.97" y2="54.77" stroke="#111" stroke-width="0.8"/>
<rect x="266.35" y="46.71" width="4.15" height="59.19" fill="#1e0099"/>
<line x1="268.43" y1="44.87" x2="268.43" y2="46.71" stroke="#111" stroke-width="0.8"/>
<line x1="267.43" y1="44.87" x2="269.43" y2="44.87" stroke="#111" stroke-width="0.8"/>
<line x1="252.80" y1="107.60" x2="270.70" y2="107.60" stroke="#333" stroke-width="1.0"/>
<text x="262.20" y="115.78" font-size="7.1" text-anchor="middle" fill="#0e0e0e" transform="translate(262.20 115.78) scale(1.07 1) translate(-262.20 -115.78)">HT29</text>
<rect x="274.80" y="93.81" width="4.15" height="12.09" fill="#cc0016"/>
<line x1="276.88" y1="92.89" x2="276.88" y2="93.81" stroke="#111" stroke-width="0.8"/>
<line x1="275.88" y1="92.89" x2="277.88" y2="92.89" stroke="#111" stroke-width="0.8"/>
<rect x="279.25" y="92.77" width="4.15" height="13.13" fill="#0a30a8"/>
<line x1="281.32" y1="91.16" x2="281.32" y2="92.77" stroke="#111" stroke-width="0.8"/>
<line x1="280.32" y1="91.16" x2="282.32" y2="91.16" stroke="#111" stroke-width="0.8"/>
<rect x="283.70" y="92.08" width="4.15" height="13.82" fill="#33ff00"/>
<line x1="285.77" y1="90.70" x2="285.77" y2="92.08" stroke="#111" stroke-width="0.8"/>
<line x1="284.77" y1="90.70" x2="286.77" y2="90.70" stroke="#111" stroke-width="0.8"/>
<rect x="288.15" y="90.93" width="4.15" height="14.97" fill="#1e0099"/>
<line x1="290.23" y1="89.09" x2="290.23" y2="90.93" stroke="#111" stroke-width="0.8"/>
<line x1="289.23" y1="89.09" x2="291.23" y2="89.09" stroke="#111" stroke-width="0.8"/>
<line x1="274.60" y1="107.60" x2="292.50" y2="107.60" stroke="#333" stroke-width="1.0"/>
<text x="284.20" y="115.78" font-size="7.1" text-anchor="middle" fill="#0e0e0e" transform="translate(284.20 115.78) scale(1.07 1) translate(-284.20 -115.78)">U937</text>
<line x1="210.88" y1="36.20" x2="224.22" y2="36.20" stroke="#1a1a1a" stroke-width="1.0"/>
<circle cx="215.35" cy="34.00" r="0.85" fill="#111"/>
<circle cx="217.55" cy="34.00" r="0.85" fill="#111"/>
<circle cx="219.75" cy="34.00" r="0.85" fill="#111"/>
<line x1="210.88" y1="44.50" x2="219.78" y2="44.50" stroke="#1a1a1a" stroke-width="1.0"/>
<circle cx="213.12" cy="42.30" r="0.85" fill="#111"/>
<circle cx="215.32" cy="42.30" r="0.85" fill="#111"/>
<circle cx="217.52" cy="42.30" r="0.85" fill="#111"/>
<line x1="210.88" y1="64.90" x2="215.32" y2="64.90" stroke="#1a1a1a" stroke-width="1.0"/>
<circle cx="210.90" cy="62.70" r="0.85" fill="#111"/>
<circle cx="213.10" cy="62.70" r="0.85" fill="#111"/>
<circle cx="215.30" cy="62.70" r="0.85" fill="#111"/>
<line x1="232.97" y1="47.40" x2="246.32" y2="47.40" stroke="#1a1a1a" stroke-width="1.0"/>
<circle cx="237.45" cy="45.20" r="0.85" fill="#111"/>
<circle cx="239.65" cy="45.20" r="0.85" fill="#111"/>
<circle cx="241.85" cy="45.20" r="0.85" fill="#111"/>
<line x1="232.97" y1="55.40" x2="241.88" y2="55.40" stroke="#1a1a1a" stroke-width="1.0"/>
<circle cx="235.23" cy="53.20" r="0.85" fill="#111"/>
<circle cx="237.43" cy="53.20" r="0.85" fill="#111"/>
<circle cx="239.62" cy="53.20" r="0.85" fill="#111"/>
<line x1="232.97" y1="66.90" x2="237.42" y2="66.90" stroke="#1a1a1a" stroke-width="1.0"/>
<circle cx="233.00" cy="64.70" r="0.85" fill="#111"/>
<circle cx="235.20" cy="64.70" r="0.85" fill="#111"/>
<circle cx="237.40" cy="64.70" r="0.85" fill="#111"/>
<line x1="255.07" y1="42.00" x2="268.43" y2="42.00" stroke="#1a1a1a" stroke-width="1.0"/>
<circle cx="259.55" cy="39.80" r="0.85" fill="#111"/>
<circle cx="261.75" cy="39.80" r="0.85" fill="#111"/>
<circle cx="263.95" cy="39.80" r="0.85" fill="#111"/>
<line x1="255.07" y1="51.90" x2="263.97" y2="51.90" stroke="#1a1a1a" stroke-width="1.0"/>
<circle cx="257.32" cy="49.70" r="0.85" fill="#111"/>
<circle cx="259.52" cy="49.70" r="0.85" fill="#111"/>
<circle cx="261.72" cy="49.70" r="0.85" fill="#111"/>
<line x1="255.07" y1="63.20" x2="259.52" y2="63.20" stroke="#1a1a1a" stroke-width="1.0"/>
<circle cx="255.10" cy="61.00" r="0.85" fill="#111"/>
<circle cx="257.30" cy="61.00" r="0.85" fill="#111"/>
<circle cx="259.50" cy="61.00" r="0.85" fill="#111"/>
<rect x="281.80" y="31.05" width="7.00" height="4.40" fill="#cc0016"/>
<text x="291.60" y="35.56" font-size="6.6" text-anchor="start" fill="#0e0e0e" transform="translate(291.60 35.56) scale(1.07 1) translate(-291.60 -35.56)">0.1 µg</text>
<rect x="281.80" y="38.50" width="7.00" height="4.40" fill="#0a30a8"/>
<text x="291.60" y="43.01" font-size="6.6" text-anchor="start" fill="#0e0e0e" transform="translate(291.60 43.01) scale(1.07 1) translate(-291.60 -43.01)">0.2 µg</text>
<rect x="281.80" y="45.95" width="7.00" height="4.40" fill="#33ff00"/>
<text x="291.60" y="50.46" font-size="6.6" text-anchor="start" fill="#0e0e0e" transform="translate(291.60 50.46) scale(1.07 1) translate(-291.60 -50.46)">0.5 µg</text>
<rect x="281.80" y="53.40" width="7.00" height="4.40" fill="#1e0099"/>
<text x="291.60" y="57.91" font-size="6.6" text-anchor="start" fill="#0e0e0e" transform="translate(291.60 57.91) scale(1.07 1) translate(-291.60 -57.91)">1 µg</text>
<text x="317.60" y="15.90" font-size="10" text-anchor="start" fill="#000" font-weight="bold" transform="translate(317.60 15.90) scale(1.1 1) translate(-317.60 -15.90)">C</text>
<line x1="349.60" y1="34.60" x2="349.60" y2="107.20" stroke="#111" stroke-width="1.1"/>
<line x1="346.40" y1="106.85" x2="349.60" y2="106.85" stroke="#111" stroke-width="1.0"/>
<text x="343.40" y="109.23" font-size="6.8" text-anchor="end" fill="#0e0e0e" transform="translate(343.40 109.23) scale(1.07 1) translate(-343.40 -109.23)">0</text>
<line x1="346.40" y1="92.50" x2="349.60" y2="92.50" stroke="#111" stroke-width="1.0"/>
<text x="343.40" y="94.88" font-size="6.8" text-anchor="end" fill="#0e0e0e" transform="translate(343.40 94.88) scale(1.07 1) translate(-343.40 -94.88)">5</text>
<line x1="346.40" y1="78.15" x2="349.60" y2="78.15" stroke="#111" stroke-width="1.0"/>
<text x="343.40" y="80.53" font-size="6.8" text-anchor="end" fill="#0e0e0e" transform="translate(343.40 80.53) scale(1.07 1) translate(-343.40 -80.53)">10</text>
<line x1="346.40" y1="63.80" x2="349.60" y2="63.80" stroke="#111" stroke-width="1.0"/>
<text x="343.40" y="66.18" font-size="6.8" text-anchor="end" fill="#0e0e0e" transform="translate(343.40 66.18) scale(1.07 1) translate(-343.40 -66.18)">15</text>
<line x1="346.40" y1="49.45" x2="349.60" y2="49.45" stroke="#111" stroke-width="1.0"/>
<text x="343.40" y="51.83" font-size="6.8" text-anchor="end" fill="#0e0e0e" transform="translate(343.40 51.83) scale(1.07 1) translate(-343.40 -51.83)">20</text>
<line x1="346.40" y1="35.10" x2="349.60" y2="35.10" stroke="#111" stroke-width="1.0"/>
<text x="343.40" y="37.48" font-size="6.8" text-anchor="end" fill="#0e0e0e" transform="translate(343.40 37.48) scale(1.07 1) translate(-343.40 -37.48)">25</text>
<text x="327.1" y="71.2" font-size="7.0" text-anchor="middle" fill="#0e0e0e" transform="rotate(-90 327.1 71.2) translate(0 2.5)" textLength="31.2" lengthAdjust="spacingAndGlyphs">FXIIa (nM)</text>
<rect x="350.50" y="87.99" width="3.70" height="18.86" fill="#cc0016"/>
<line x1="352.35" y1="86.56" x2="352.35" y2="87.99" stroke="#111" stroke-width="0.8"/>
<line x1="351.45" y1="86.56" x2="353.25" y2="86.56" stroke="#111" stroke-width="0.8"/>
<rect x="354.20" y="54.19" width="3.70" height="52.66" fill="#0a30a8"/>
<line x1="356.05" y1="51.32" x2="356.05" y2="54.19" stroke="#111" stroke-width="0.8"/>
<line x1="355.15" y1="51.32" x2="356.95" y2="51.32" stroke="#111" stroke-width="0.8"/>
<rect x="357.90" y="62.94" width="3.70" height="43.91" fill="#33ff00"/>
<line x1="359.75" y1="61.50" x2="359.75" y2="62.94" stroke="#111" stroke-width="0.8"/>
<line x1="358.85" y1="61.50" x2="360.65" y2="61.50" stroke="#111" stroke-width="0.8"/>
<rect x="361.50" y="56.91" width="3.70" height="49.94" fill="#1e0099"/>
<line x1="363.35" y1="54.33" x2="363.35" y2="56.91" stroke="#111" stroke-width="0.8"/>
<line x1="362.45" y1="54.33" x2="364.25" y2="54.33" stroke="#111" stroke-width="0.8"/>
<rect x="365.50" y="89.06" width="3.70" height="17.79" fill="#ff7300"/>
<line x1="367.35" y1="87.62" x2="367.35" y2="89.06" stroke="#111" stroke-width="0.8"/>
<line x1="366.45" y1="87.62" x2="368.25" y2="87.62" stroke="#111" stroke-width="0.8"/>
<line x1="350.70" y1="109.50" x2="368.70" y2="109.50" stroke="#333" stroke-width="1.0"/>
<rect x="371.90" y="89.20" width="3.70" height="17.65" fill="#cc0016"/>
<line x1="373.75" y1="88.19" x2="373.75" y2="89.20" stroke="#111" stroke-width="0.8"/>
<line x1="372.85" y1="88.19" x2="374.65" y2="88.19" stroke="#111" stroke-width="0.8"/>
<rect x="375.60" y="62.08" width="3.70" height="44.77" fill="#0a30a8"/>
<line x1="377.45" y1="59.21" x2="377.45" y2="62.08" stroke="#111" stroke-width="0.8"/>
<line x1="376.55" y1="59.21" x2="378.35" y2="59.21" stroke="#111" stroke-width="0.8"/>
<rect x="379.30" y="67.82" width="3.70" height="39.03" fill="#33ff00"/>
<line x1="381.15" y1="66.10" x2="381.15" y2="67.82" stroke="#111" stroke-width="0.8"/>
<line x1="380.25" y1="66.10" x2="382.05" y2="66.10" stroke="#111" stroke-width="0.8"/>
<rect x="382.90" y="60.93" width="3.70" height="45.92" fill="#1e0099"/>
<line x1="384.75" y1="59.93" x2="384.75" y2="60.93" stroke="#111" stroke-width="0.8"/>
<line x1="383.85" y1="59.93" x2="385.65" y2="59.93" stroke="#111" stroke-width="0.8"/>
<rect x="386.90" y="89.92" width="3.70" height="16.93" fill="#ff7300"/>
<line x1="388.75" y1="88.91" x2="388.75" y2="89.92" stroke="#111" stroke-width="0.8"/>
<line x1="387.85" y1="88.91" x2="389.65" y2="88.91" stroke="#111" stroke-width="0.8"/>
<line x1="372.10" y1="109.50" x2="390.10" y2="109.50" stroke="#333" stroke-width="1.0"/>
<rect x="393.20" y="92.50" width="3.70" height="14.35" fill="#cc0016"/>
<line x1="395.05" y1="91.64" x2="395.05" y2="92.50" stroke="#111" stroke-width="0.8"/>
<line x1="394.15" y1="91.64" x2="395.95" y2="91.64" stroke="#111" stroke-width="0.8"/>
<rect x="396.90" y="85.47" width="3.70" height="21.38" fill="#0a30a8"/>
<line x1="398.75" y1="83.17" x2="398.75" y2="85.47" stroke="#111" stroke-width="0.8"/>
<line x1="397.85" y1="83.17" x2="399.65" y2="83.17" stroke="#111" stroke-width="0.8"/>
<rect x="400.60" y="87.91" width="3.70" height="18.94" fill="#33ff00"/>
<line x1="402.45" y1="86.47" x2="402.45" y2="87.91" stroke="#111" stroke-width="0.8"/>
<line x1="401.55" y1="86.47" x2="403.35" y2="86.47" stroke="#111" stroke-width="0.8"/>
<rect x="404.20" y="83.03" width="3.70" height="23.82" fill="#1e0099"/>
<line x1="406.05" y1="82.02" x2="406.05" y2="83.03" stroke="#111" stroke-width="0.8"/>
<line x1="405.15" y1="82.02" x2="406.95" y2="82.02" stroke="#111" stroke-width="0.8"/>
<rect x="408.20" y="91.50" width="3.70" height="15.35" fill="#ff7300"/>
<line x1="410.05" y1="90.35" x2="410.05" y2="91.50" stroke="#111" stroke-width="0.8"/>
<line x1="409.15" y1="90.35" x2="410.95" y2="90.35" stroke="#111" stroke-width="0.8"/>
<line x1="393.40" y1="109.50" x2="411.40" y2="109.50" stroke="#333" stroke-width="1.0"/>
<rect x="414.70" y="93.79" width="3.70" height="13.06" fill="#cc0016"/>
<line x1="416.55" y1="92.93" x2="416.55" y2="93.79" stroke="#111" stroke-width="0.8"/>
<line x1="415.65" y1="92.93" x2="417.45" y2="92.93" stroke="#111" stroke-width="0.8"/>
<rect x="418.40" y="87.05" width="3.70" height="19.80" fill="#0a30a8"/>
<line x1="420.25" y1="85.61" x2="420.25" y2="87.05" stroke="#111" stroke-width="0.8"/>
<line x1="419.35" y1="85.61" x2="421.15" y2="85.61" stroke="#111" stroke-width="0.8"/>
<rect x="422.10" y="90.49" width="3.70" height="16.36" fill="#33ff00"/>
<line x1="423.95" y1="89.34" x2="423.95" y2="90.49" stroke="#111" stroke-width="0.8"/>
<line x1="423.05" y1="89.34" x2="424.85" y2="89.34" stroke="#111" stroke-width="0.8"/>
<rect x="425.70" y="88.05" width="3.70" height="18.80" fill="#1e0099"/>
<line x1="427.55" y1="86.62" x2="427.55" y2="88.05" stroke="#111" stroke-width="0.8"/>
<line x1="426.65" y1="86.62" x2="428.45" y2="86.62" stroke="#111" stroke-width="0.8"/>
<rect x="429.70" y="91.93" width="3.70" height="14.92" fill="#ff7300"/>
<line x1="431.55" y1="90.78" x2="431.55" y2="91.93" stroke="#111" stroke-width="0.8"/>
<line x1="430.65" y1="90.78" x2="432.45" y2="90.78" stroke="#111" stroke-width="0.8"/>
<line x1="414.90" y1="109.50" x2="432.90" y2="109.50" stroke="#333" stroke-width="1.0"/>
<rect x="436.10" y="87.99" width="3.70" height="18.86" fill="#cc0016"/>
<line x1="437.95" y1="86.56" x2="437.95" y2="87.99" stroke="#111" stroke-width="0.8"/>
<line x1="437.05" y1="86.56" x2="438.85" y2="86.56" stroke="#111" stroke-width="0.8"/>
<rect x="439.80" y="57.20" width="3.70" height="49.65" fill="#0a30a8"/>
<line x1="441.65" y1="56.62" x2="441.65" y2="57.20" stroke="#111" stroke-width="0.8"/>
<line x1="440.75" y1="56.62" x2="442.55" y2="56.62" stroke="#111" stroke-width="0.8"/>
<rect x="443.50" y="65.81" width="3.70" height="41.04" fill="#33ff00"/>
<line x1="445.35" y1="64.66" x2="445.35" y2="65.81" stroke="#111" stroke-width="0.8"/>
<line x1="444.45" y1="64.66" x2="446.25" y2="64.66" stroke="#111" stroke-width="0.8"/>
<rect x="447.10" y="59.49" width="3.70" height="47.36" fill="#1e0099"/>
<line x1="448.95" y1="58.06" x2="448.95" y2="59.49" stroke="#111" stroke-width="0.8"/>
<line x1="448.05" y1="58.06" x2="449.85" y2="58.06" stroke="#111" stroke-width="0.8"/>
<rect x="451.10" y="89.92" width="3.70" height="16.93" fill="#ff7300"/>
<line x1="452.95" y1="89.06" x2="452.95" y2="89.92" stroke="#111" stroke-width="0.8"/>
<line x1="452.05" y1="89.06" x2="453.85" y2="89.06" stroke="#111" stroke-width="0.8"/>
<line x1="436.30" y1="109.50" x2="454.30" y2="109.50" stroke="#333" stroke-width="1.0"/>
<rect x="457.30" y="89.06" width="3.70" height="17.79" fill="#cc0016"/>
<line x1="459.15" y1="88.19" x2="459.15" y2="89.06" stroke="#111" stroke-width="0.8"/>
<line x1="458.25" y1="88.19" x2="460.05" y2="88.19" stroke="#111" stroke-width="0.8"/>
<rect x="461.00" y="57.49" width="3.70" height="49.36" fill="#0a30a8"/>
<line x1="462.85" y1="54.62" x2="462.85" y2="57.49" stroke="#111" stroke-width="0.8"/>
<line x1="461.95" y1="54.62" x2="463.75" y2="54.62" stroke="#111" stroke-width="0.8"/>
<rect x="464.70" y="66.53" width="3.70" height="40.32" fill="#33ff00"/>
<line x1="466.55" y1="65.67" x2="466.55" y2="66.53" stroke="#111" stroke-width="0.8"/>
<line x1="465.65" y1="65.67" x2="467.45" y2="65.67" stroke="#111" stroke-width="0.8"/>
<rect x="468.30" y="62.80" width="3.70" height="44.05" fill="#1e0099"/>
<line x1="470.15" y1="61.07" x2="470.15" y2="62.80" stroke="#111" stroke-width="0.8"/>
<line x1="469.25" y1="61.07" x2="471.05" y2="61.07" stroke="#111" stroke-width="0.8"/>
<rect x="472.30" y="90.78" width="3.70" height="16.07" fill="#ff7300"/>
<line x1="474.15" y1="89.63" x2="474.15" y2="90.78" stroke="#111" stroke-width="0.8"/>
<line x1="473.25" y1="89.63" x2="475.05" y2="89.63" stroke="#111" stroke-width="0.8"/>
<line x1="457.50" y1="109.50" x2="475.50" y2="109.50" stroke="#333" stroke-width="1.0"/>
<text x="359.70" y="117.75" font-size="7.0" text-anchor="middle" fill="#0e0e0e" transform="translate(359.70 117.75) scale(1.07 1) translate(-359.70 -117.75)">HBS</text>
<text x="380.80" y="117.75" font-size="7.0" text-anchor="middle" fill="#0e0e0e" transform="translate(380.80 117.75) scale(1.07 1) translate(-380.80 -117.75)">1</text>
<text x="402.30" y="117.75" font-size="7.0" text-anchor="middle" fill="#0e0e0e" transform="translate(402.30 117.75) scale(1.07 1) translate(-402.30 -117.75)">10</text>
<text x="424.00" y="117.75" font-size="7.0" text-anchor="middle" fill="#0e0e0e" transform="translate(424.00 117.75) scale(1.07 1) translate(-424.00 -117.75)">20</text>
<text x="444.50" y="117.75" font-size="7.0" text-anchor="middle" fill="#0e0e0e" transform="translate(444.50 117.75) scale(1.07 1) translate(-444.50 -117.75)">DNase</text>
<text x="470.40" y="117.75" font-size="7.0" text-anchor="middle" fill="#0e0e0e" transform="translate(470.40 117.75) scale(1.07 1) translate(-470.40 -117.75)">RNase</text>
<line x1="372.30" y1="119.70" x2="432.20" y2="119.70" stroke="#333" stroke-width="1.0"/>
<text x="402.30" y="127.85" font-size="7.0" text-anchor="middle" fill="#0e0e0e" transform="translate(402.30 127.85) scale(1.07 1) translate(-402.30 -127.85)">CIP</text>
<line x1="356.05" y1="15.80" x2="462.85" y2="15.80" stroke="#222" stroke-width="1.2"/>
<text x="409.45" y="13.91" font-size="6.6" text-anchor="middle" fill="#0e0e0e" transform="translate(409.45 13.91) scale(1.07 1) translate(-409.45 -13.91)">ns</text>
<line x1="356.05" y1="24.80" x2="441.65" y2="24.80" stroke="#222" stroke-width="1.2"/>
<text x="398.85" y="22.91" font-size="6.6" text-anchor="middle" fill="#0e0e0e" transform="translate(398.85 22.91) scale(1.07 1) translate(-398.85 -22.91)">ns</text>
<line x1="356.05" y1="32.80" x2="420.25" y2="32.80" stroke="#222" stroke-width="1.2"/>
<circle cx="384.96" cy="29.60" r="0.99" fill="#111"/>
<circle cx="388.15" cy="29.60" r="0.99" fill="#111"/>
<circle cx="391.34" cy="29.60" r="0.99" fill="#111"/>
<line x1="356.05" y1="40.50" x2="398.75" y2="40.50" stroke="#222" stroke-width="1.2"/>
<circle cx="374.21" cy="37.30" r="0.99" fill="#111"/>
<circle cx="377.40" cy="37.30" r="0.99" fill="#111"/>
<circle cx="380.59" cy="37.30" r="0.99" fill="#111"/>
<line x1="356.05" y1="48.00" x2="377.45" y2="48.00" stroke="#222" stroke-width="1.2"/>
<circle cx="366.75" cy="44.80" r="0.99" fill="#111"/>
<rect x="480.80" y="37.40" width="7.00" height="4.20" fill="#cc0016"/>
<text x="490.60" y="41.24" font-size="6.7" text-anchor="start" fill="#0e0e0e" transform="translate(490.60 41.24) scale(1.07 1) translate(-490.60 -41.24)">HDF</text>
<rect x="480.80" y="44.60" width="7.00" height="4.20" fill="#0a30a8"/>
<text x="490.60" y="48.45" font-size="6.7" text-anchor="start" fill="#0e0e0e" transform="translate(490.60 48.45) scale(1.07 1) translate(-490.60 -48.45)">L3.6</text>
<rect x="480.80" y="51.80" width="7.00" height="4.20" fill="#33ff00"/>
<text x="490.60" y="55.64" font-size="6.7" text-anchor="start" fill="#0e0e0e" transform="translate(490.60 55.64) scale(1.07 1) translate(-490.60 -55.64)">H1975</text>
<rect x="480.80" y="59.00" width="7.00" height="4.20" fill="#1e0099"/>
<text x="490.60" y="62.84" font-size="6.7" text-anchor="start" fill="#0e0e0e" transform="translate(490.60 62.84) scale(1.07 1) translate(-490.60 -62.84)">HT29</text>
<rect x="480.80" y="66.20" width="7.00" height="4.20" fill="#ff7300"/>
<text x="490.60" y="70.05" font-size="6.7" text-anchor="start" fill="#0e0e0e" transform="translate(490.60 70.05) scale(1.07 1) translate(-490.60 -70.05)">U937</text>
<text x="6.80" y="146.50" font-size="10" text-anchor="start" fill="#000" font-weight="bold" transform="translate(6.80 146.50) scale(1.1 1) translate(-6.80 -146.50)">D</text>
<line x1="37.50" y1="155.00" x2="37.50" y2="231.70" stroke="#111" stroke-width="1.1"/>
<line x1="34.80" y1="231.20" x2="37.50" y2="231.20" stroke="#111" stroke-width="1.0"/>
<text x="32.20" y="233.51" font-size="6.6" text-anchor="end" fill="#0e0e0e" transform="translate(32.20 233.51) scale(1.07 1) translate(-32.20 -233.51)">0</text>
<line x1="34.80" y1="216.10" x2="37.50" y2="216.10" stroke="#111" stroke-width="1.0"/>
<text x="32.20" y="218.41" font-size="6.6" text-anchor="end" fill="#0e0e0e" transform="translate(32.20 218.41) scale(1.07 1) translate(-32.20 -218.41)">2</text>
<line x1="34.80" y1="201.00" x2="37.50" y2="201.00" stroke="#111" stroke-width="1.0"/>
<text x="32.20" y="203.31" font-size="6.6" text-anchor="end" fill="#0e0e0e" transform="translate(32.20 203.31) scale(1.07 1) translate(-32.20 -203.31)">4</text>
<line x1="34.80" y1="185.90" x2="37.50" y2="185.90" stroke="#111" stroke-width="1.0"/>
<text x="32.20" y="188.21" font-size="6.6" text-anchor="end" fill="#0e0e0e" transform="translate(32.20 188.21) scale(1.07 1) translate(-32.20 -188.21)">6</text>
<line x1="34.80" y1="170.80" x2="37.50" y2="170.80" stroke="#111" stroke-width="1.0"/>
<text x="32.20" y="173.11" font-size="6.6" text-anchor="end" fill="#0e0e0e" transform="translate(32.20 173.11) scale(1.07 1) translate(-32.20 -173.11)">8</text>
<line x1="34.80" y1="155.70" x2="37.50" y2="155.70" stroke="#111" stroke-width="1.0"/>
<text x="32.20" y="158.01" font-size="6.6" text-anchor="end" fill="#0e0e0e" transform="translate(32.20 158.01) scale(1.07 1) translate(-32.20 -158.01)">10</text>
<line x1="37.00" y1="231.40" x2="152.60" y2="231.40" stroke="#111" stroke-width="1.1"/>
<text x="15.6" y="193.0" font-size="7.4" text-anchor="middle" fill="#0e0e0e" transform="rotate(-90 15.6 193.0) translate(0 2.65)" textLength="79" lengthAdjust="spacingAndGlyphs">FXII activation (fold change)</text>
<rect x="40.00" y="223.65" width="5.30" height="7.55" fill="#cc0016"/>
<line x1="42.65" y1="223.27" x2="42.65" y2="223.65" stroke="#111" stroke-width="0.9"/>
<line x1="41.45" y1="223.27" x2="43.85" y2="223.27" stroke="#111" stroke-width="0.9"/>
<rect x="47.40" y="223.65" width="5.30" height="7.55" fill="#0a30a8"/>
<line x1="50.05" y1="223.05" x2="50.05" y2="223.65" stroke="#111" stroke-width="0.9"/>
<line x1="48.85" y1="223.05" x2="51.25" y2="223.05" stroke="#111" stroke-width="0.9"/>
<line x1="46.35" y1="231.40" x2="46.35" y2="234.20" stroke="#111" stroke-width="0.9"/>
<text x="48.75" y="241.60" font-size="7.5" text-anchor="end" fill="#0e0e0e" transform="rotate(-45 48.75 241.60) translate(48.75 241.60) scale(1.07 1) translate(-48.75 -241.60)">HBS</text>
<rect x="59.56" y="222.89" width="5.30" height="8.31" fill="#cc0016"/>
<line x1="62.21" y1="221.76" x2="62.21" y2="222.89" stroke="#111" stroke-width="0.9"/>
<line x1="61.01" y1="221.76" x2="63.41" y2="221.76" stroke="#111" stroke-width="0.9"/>
<rect x="66.96" y="222.89" width="5.30" height="8.31" fill="#0a30a8"/>
<line x1="69.61" y1="221.38" x2="69.61" y2="222.89" stroke="#111" stroke-width="0.9"/>
<line x1="68.41" y1="221.38" x2="70.81" y2="221.38" stroke="#111" stroke-width="0.9"/>
<line x1="65.91" y1="231.40" x2="65.91" y2="234.20" stroke="#111" stroke-width="0.9"/>
<text x="68.31" y="241.60" font-size="7.5" text-anchor="end" fill="#0e0e0e" transform="rotate(-45 68.31 241.60) translate(68.31 241.60) scale(1.07 1) translate(-68.31 -241.60)">CTI</text>
<rect x="79.12" y="200.47" width="5.30" height="30.73" fill="#cc0016"/>
<line x1="81.77" y1="197.45" x2="81.77" y2="200.47" stroke="#111" stroke-width="0.9"/>
<line x1="80.57" y1="197.45" x2="82.97" y2="197.45" stroke="#111" stroke-width="0.9"/>
<rect x="86.52" y="222.97" width="5.30" height="8.23" fill="#0a30a8"/>
<line x1="89.17" y1="222.22" x2="89.17" y2="222.97" stroke="#111" stroke-width="0.9"/>
<line x1="87.97" y1="222.22" x2="90.37" y2="222.22" stroke="#111" stroke-width="0.9"/>
<line x1="85.47" y1="231.40" x2="85.47" y2="234.20" stroke="#111" stroke-width="0.9"/>
<text x="87.87" y="241.60" font-size="7.5" text-anchor="end" fill="#0e0e0e" transform="rotate(-45 87.87 241.60) translate(87.87 241.60) scale(1.07 1) translate(-87.87 -241.60)">L3.6</text>
<rect x="98.68" y="219.80" width="5.30" height="11.40" fill="#cc0016"/>
<line x1="101.33" y1="216.78" x2="101.33" y2="219.80" stroke="#111" stroke-width="0.9"/>
<line x1="100.13" y1="216.78" x2="102.53" y2="216.78" stroke="#111" stroke-width="0.9"/>
<rect x="106.08" y="223.80" width="5.30" height="7.40" fill="#0a30a8"/>
<line x1="108.73" y1="223.42" x2="108.73" y2="223.80" stroke="#111" stroke-width="0.9"/>
<line x1="107.53" y1="223.42" x2="109.93" y2="223.42" stroke="#111" stroke-width="0.9"/>
<line x1="105.03" y1="231.40" x2="105.03" y2="234.20" stroke="#111" stroke-width="0.9"/>
<text x="107.43" y="241.60" font-size="7.5" text-anchor="end" fill="#0e0e0e" transform="rotate(-45 107.43 241.60) translate(107.43 241.60) scale(1.07 1) translate(-107.43 -241.60)">L3.6 + CTI</text>
<rect x="118.24" y="181.22" width="5.30" height="49.98" fill="#cc0016"/>
<line x1="120.89" y1="177.82" x2="120.89" y2="181.22" stroke="#111" stroke-width="0.9"/>
<line x1="119.69" y1="177.82" x2="122.09" y2="177.82" stroke="#111" stroke-width="0.9"/>
<rect x="125.64" y="221.01" width="5.30" height="10.19" fill="#0a30a8"/>
<line x1="128.29" y1="220.25" x2="128.29" y2="221.01" stroke="#111" stroke-width="0.9"/>
<line x1="127.09" y1="220.25" x2="129.49" y2="220.25" stroke="#111" stroke-width="0.9"/>
<line x1="124.59" y1="231.40" x2="124.59" y2="234.20" stroke="#111" stroke-width="0.9"/>
<text x="126.99" y="241.60" font-size="7.5" text-anchor="end" fill="#0e0e0e" transform="rotate(-45 126.99 241.60) translate(126.99 241.60) scale(1.07 1) translate(-126.99 -241.60)">DS</text>
<rect x="137.80" y="221.01" width="5.30" height="10.19" fill="#cc0016"/>
<line x1="140.45" y1="219.20" x2="140.45" y2="221.01" stroke="#111" stroke-width="0.9"/>
<line x1="139.25" y1="219.20" x2="141.65" y2="219.20" stroke="#111" stroke-width="0.9"/>
<rect x="145.20" y="221.23" width="5.30" height="9.97" fill="#0a30a8"/>
<line x1="147.85" y1="220.48" x2="147.85" y2="221.23" stroke="#111" stroke-width="0.9"/>
<line x1="146.65" y1="220.48" x2="149.05" y2="220.48" stroke="#111" stroke-width="0.9"/>
<line x1="144.15" y1="231.40" x2="144.15" y2="234.20" stroke="#111" stroke-width="0.9"/>
<text x="146.55" y="241.60" font-size="7.5" text-anchor="end" fill="#0e0e0e" transform="rotate(-45 146.55 241.60) translate(146.55 241.60) scale(1.07 1) translate(-146.55 -241.60)">DS + CTI</text>
<rect x="41.10" y="154.20" width="6.90" height="3.40" fill="#cc0016"/>
<rect x="41.10" y="161.50" width="6.90" height="3.40" fill="#0a30a8"/>
<text x="51.00" y="158.25" font-size="7.0" text-anchor="start" fill="#0e0e0e" transform="translate(51.00 158.25) scale(1.07 1) translate(-51.00 -158.25)">NHP</text>
<text x="51.00" y="165.58" font-size="6.8" text-anchor="start" fill="#0e0e0e" textLength="49.00" lengthAdjust="spacingAndGlyphs">FXII-def. plasma</text>
<line x1="81.60" y1="183.50" x2="101.90" y2="183.50" stroke="#222" stroke-width="1.0"/>
<circle cx="89.34" cy="180.40" r="0.88" fill="#111"/>
<circle cx="92.20" cy="180.40" r="0.88" fill="#111"/>
<circle cx="95.06" cy="180.40" r="0.88" fill="#111"/>
<line x1="81.40" y1="193.30" x2="91.60" y2="193.30" stroke="#222" stroke-width="1.0"/>
<circle cx="83.94" cy="190.40" r="0.88" fill="#111"/>
<circle cx="86.80" cy="190.40" r="0.88" fill="#111"/>
<circle cx="89.66" cy="190.40" r="0.88" fill="#111"/>
<line x1="88.60" y1="204.80" x2="109.20" y2="204.80" stroke="#333" stroke-width="1.0"/>
<text x="98.60" y="203.08" font-size="6.8" text-anchor="middle" fill="#0e0e0e" transform="translate(98.60 203.08) scale(1.07 1) translate(-98.60 -203.08)">ns</text>
<line x1="99.20" y1="213.80" x2="110.00" y2="213.80" stroke="#333" stroke-width="1.0"/>
<text x="104.60" y="212.18" font-size="6.8" text-anchor="middle" fill="#0e0e0e" transform="translate(104.60 212.18) scale(1.07 1) translate(-104.60 -212.18)">ns</text>
<text x="180.30" y="146.50" font-size="10" text-anchor="start" fill="#000" font-weight="bold" transform="translate(180.30 146.50) scale(1.1 1) translate(-180.30 -146.50)">E</text>
<line x1="209.90" y1="154.50" x2="209.90" y2="232.60" stroke="#111" stroke-width="1.1"/>
<line x1="206.90" y1="232.00" x2="209.90" y2="232.00" stroke="#111" stroke-width="1.0"/>
<text x="203.60" y="234.31" font-size="6.6" text-anchor="end" fill="#0e0e0e" transform="translate(203.60 234.31) scale(1.1 1) translate(-203.60 -234.31)">0.0</text>
<line x1="206.90" y1="216.55" x2="209.90" y2="216.55" stroke="#111" stroke-width="1.0"/>
<text x="203.60" y="218.86" font-size="6.6" text-anchor="end" fill="#0e0e0e" transform="translate(203.60 218.86) scale(1.1 1) translate(-203.60 -218.86)">0.1</text>
<line x1="206.90" y1="201.10" x2="209.90" y2="201.10" stroke="#111" stroke-width="1.0"/>
<text x="203.60" y="203.41" font-size="6.6" text-anchor="end" fill="#0e0e0e" transform="translate(203.60 203.41) scale(1.1 1) translate(-203.60 -203.41)">0.2</text>
<line x1="206.90" y1="185.65" x2="209.90" y2="185.65" stroke="#111" stroke-width="1.0"/>
<text x="203.60" y="187.96" font-size="6.6" text-anchor="end" fill="#0e0e0e" transform="translate(203.60 187.96) scale(1.1 1) translate(-203.60 -187.96)">0.3</text>
<line x1="206.90" y1="170.20" x2="209.90" y2="170.20" stroke="#111" stroke-width="1.0"/>
<text x="203.60" y="172.51" font-size="6.6" text-anchor="end" fill="#0e0e0e" transform="translate(203.60 172.51) scale(1.1 1) translate(-203.60 -172.51)">0.4</text>
<line x1="206.90" y1="154.75" x2="209.90" y2="154.75" stroke="#111" stroke-width="1.0"/>
<text x="203.60" y="157.06" font-size="6.6" text-anchor="end" fill="#0e0e0e" transform="translate(203.60 157.06) scale(1.1 1) translate(-203.60 -157.06)">0.5</text>
<line x1="206.90" y1="232.20" x2="343.20" y2="232.20" stroke="#111" stroke-width="1.4"/>
<line x1="213.10" y1="232.20" x2="213.10" y2="235.60" stroke="#111" stroke-width="1.3"/>
<text x="215.20" y="237.30" font-size="5.9" text-anchor="end" fill="#0e0e0e" transform="rotate(-90 215.20 237.30) translate(215.20 237.30) scale(1.07 1) translate(-215.20 -237.30)">0</text>
<line x1="219.57" y1="232.20" x2="219.57" y2="235.60" stroke="#111" stroke-width="1.3"/>
<text x="221.67" y="237.30" font-size="5.9" text-anchor="end" fill="#0e0e0e" transform="rotate(-90 221.67 237.30) translate(221.67 237.30) scale(1.07 1) translate(-221.67 -237.30)">10</text>
<line x1="226.04" y1="232.20" x2="226.04" y2="235.60" stroke="#111" stroke-width="1.3"/>
<text x="228.14" y="237.30" font-size="5.9" text-anchor="end" fill="#0e0e0e" transform="rotate(-90 228.14 237.30) translate(228.14 237.30) scale(1.07 1) translate(-228.14 -237.30)">20</text>
<line x1="232.51" y1="232.20" x2="232.51" y2="235.60" stroke="#111" stroke-width="1.3"/>
<text x="234.61" y="237.30" font-size="5.9" text-anchor="end" fill="#0e0e0e" transform="rotate(-90 234.61 237.30) translate(234.61 237.30) scale(1.07 1) translate(-234.61 -237.30)">30</text>
<line x1="238.98" y1="232.20" x2="238.98" y2="235.60" stroke="#111" stroke-width="1.3"/>
<text x="241.08" y="237.30" font-size="5.9" text-anchor="end" fill="#0e0e0e" transform="rotate(-90 241.08 237.30) translate(241.08 237.30) scale(1.07 1) translate(-241.08 -237.30)">40</text>
<line x1="245.45" y1="232.20" x2="245.45" y2="235.60" stroke="#111" stroke-width="1.3"/>
<text x="247.55" y="237.30" font-size="5.9" text-anchor="end" fill="#0e0e0e" transform="rotate(-90 247.55 237.30) translate(247.55 237.30) scale(1.07 1) translate(-247.55 -237.30)">50</text>
<line x1="251.92" y1="232.20" x2="251.92" y2="235.60" stroke="#111" stroke-width="1.3"/>
<text x="254.02" y="237.30" font-size="5.9" text-anchor="end" fill="#0e0e0e" transform="rotate(-90 254.02 237.30) translate(254.02 237.30) scale(1.07 1) translate(-254.02 -237.30)">60</text>
<line x1="258.39" y1="232.20" x2="258.39" y2="235.60" stroke="#111" stroke-width="1.3"/>
<text x="260.49" y="237.30" font-size="5.9" text-anchor="end" fill="#0e0e0e" transform="rotate(-90 260.49 237.30) translate(260.49 237.30) scale(1.07 1) translate(-260.49 -237.30)">70</text>
<line x1="264.86" y1="232.20" x2="264.86" y2="235.60" stroke="#111" stroke-width="1.3"/>
<text x="266.96" y="237.30" font-size="5.9" text-anchor="end" fill="#0e0e0e" transform="rotate(-90 266.96 237.30) translate(266.96 237.30) scale(1.07 1) translate(-266.96 -237.30)">80</text>
<line x1="271.33" y1="232.20" x2="271.33" y2="235.60" stroke="#111" stroke-width="1.3"/>
<text x="273.43" y="237.30" font-size="5.9" text-anchor="end" fill="#0e0e0e" transform="rotate(-90 273.43 237.30) translate(273.43 237.30) scale(1.07 1) translate(-273.43 -237.30)">90</text>
<line x1="277.80" y1="232.20" x2="277.80" y2="235.60" stroke="#111" stroke-width="1.3"/>
<text x="279.90" y="237.30" font-size="5.9" text-anchor="end" fill="#0e0e0e" transform="rotate(-90 279.90 237.30) translate(279.90 237.30) scale(1.07 1) translate(-279.90 -237.30)">100</text>
<line x1="284.27" y1="232.20" x2="284.27" y2="235.60" stroke="#111" stroke-width="1.3"/>
<text x="286.37" y="237.30" font-size="5.9" text-anchor="end" fill="#0e0e0e" transform="rotate(-90 286.37 237.30) translate(286.37 237.30) scale(1.07 1) translate(-286.37 -237.30)">110</text>
<line x1="290.74" y1="232.20" x2="290.74" y2="235.60" stroke="#111" stroke-width="1.3"/>
<text x="292.84" y="237.30" font-size="5.9" text-anchor="end" fill="#0e0e0e" transform="rotate(-90 292.84 237.30) translate(292.84 237.30) scale(1.07 1) translate(-292.84 -237.30)">120</text>
<line x1="297.21" y1="232.20" x2="297.21" y2="235.60" stroke="#111" stroke-width="1.3"/>
<text x="299.31" y="237.30" font-size="5.9" text-anchor="end" fill="#0e0e0e" transform="rotate(-90 299.31 237.30) translate(299.31 237.30) scale(1.07 1) translate(-299.31 -237.30)">130</text>
<line x1="303.68" y1="232.20" x2="303.68" y2="235.60" stroke="#111" stroke-width="1.3"/>
<text x="305.78" y="237.30" font-size="5.9" text-anchor="end" fill="#0e0e0e" transform="rotate(-90 305.78 237.30) translate(305.78 237.30) scale(1.07 1) translate(-305.78 -237.30)">140</text>
<line x1="310.15" y1="232.20" x2="310.15" y2="235.60" stroke="#111" stroke-width="1.3"/>
<text x="312.25" y="237.30" font-size="5.9" text-anchor="end" fill="#0e0e0e" transform="rotate(-90 312.25 237.30) translate(312.25 237.30) scale(1.07 1) translate(-312.25 -237.30)">150</text>
<line x1="316.62" y1="232.20" x2="316.62" y2="235.60" stroke="#111" stroke-width="1.3"/>
<text x="318.72" y="237.30" font-size="5.9" text-anchor="end" fill="#0e0e0e" transform="rotate(-90 318.72 237.30) translate(318.72 237.30) scale(1.07 1) translate(-318.72 -237.30)">160</text>
<line x1="323.09" y1="232.20" x2="323.09" y2="235.60" stroke="#111" stroke-width="1.3"/>
<text x="325.19" y="237.30" font-size="5.9" text-anchor="end" fill="#0e0e0e" transform="rotate(-90 325.19 237.30) translate(325.19 237.30) scale(1.07 1) translate(-325.19 -237.30)">170</text>
<line x1="329.56" y1="232.20" x2="329.56" y2="235.60" stroke="#111" stroke-width="1.3"/>
<text x="331.66" y="237.30" font-size="5.9" text-anchor="end" fill="#0e0e0e" transform="rotate(-90 331.66 237.30) translate(331.66 237.30) scale(1.07 1) translate(-331.66 -237.30)">180</text>
<line x1="336.03" y1="232.20" x2="336.03" y2="235.60" stroke="#111" stroke-width="1.3"/>
<text x="338.13" y="237.30" font-size="5.9" text-anchor="end" fill="#0e0e0e" transform="rotate(-90 338.13 237.30) translate(338.13 237.30) scale(1.07 1) translate(-338.13 -237.30)">190</text>
<line x1="342.50" y1="232.20" x2="342.50" y2="235.60" stroke="#111" stroke-width="1.3"/>
<text x="344.60" y="237.30" font-size="5.9" text-anchor="end" fill="#0e0e0e" transform="rotate(-90 344.60 237.30) translate(344.60 237.30) scale(1.07 1) translate(-344.60 -237.30)">200</text>
<text x="276.40" y="257.91" font-size="8.6" text-anchor="middle" fill="#0e0e0e" textLength="30.80" lengthAdjust="spacingAndGlyphs">Time (min)</text>
<text x="186.6" y="193" font-size="8.0" text-anchor="middle" fill="#0e0e0e" transform="rotate(-90 186.6 193) translate(0 2.85)" textLength="62.5" lengthAdjust="spacingAndGlyphs">Absorbance (405 nm)</text>
<polyline points="213.10,223.66 219.57,223.50 226.04,223.19 232.51,222.73 238.98,221.80 245.45,219.33 251.92,217.01 258.39,214.08 264.86,210.06 271.33,206.04 277.80,201.56 284.27,196.47 290.74,191.37 297.21,186.73 303.68,182.56 310.15,179.16 316.62,177.15 323.09,175.76 329.56,175.14 336.03,174.84 342.50,174.84" fill="none" stroke="#ff7300" stroke-width="1.5" stroke-linejoin="round"/>
<rect x="211.40" y="221.96" width="3.40" height="3.40" fill="#ff7300"/>
<rect x="217.87" y="221.80" width="3.40" height="3.40" fill="#ff7300"/>
<rect x="224.34" y="221.49" width="3.40" height="3.40" fill="#ff7300"/>
<rect x="230.81" y="221.03" width="3.40" height="3.40" fill="#ff7300"/>
<rect x="237.28" y="220.10" width="3.40" height="3.40" fill="#ff7300"/>
<rect x="243.75" y="217.63" width="3.40" height="3.40" fill="#ff7300"/>
<rect x="250.22" y="215.31" width="3.40" height="3.40" fill="#ff7300"/>
<rect x="256.69" y="212.38" width="3.40" height="3.40" fill="#ff7300"/>
<rect x="263.16" y="208.36" width="3.40" height="3.40" fill="#ff7300"/>
<rect x="269.63" y="204.34" width="3.40" height="3.40" fill="#ff7300"/>
<rect x="276.10" y="199.86" width="3.40" height="3.40" fill="#ff7300"/>
<rect x="282.57" y="194.77" width="3.40" height="3.40" fill="#ff7300"/>
<rect x="289.04" y="189.67" width="3.40" height="3.40" fill="#ff7300"/>
<rect x="295.51" y="185.03" width="3.40" height="3.40" fill="#ff7300"/>
<rect x="301.98" y="180.86" width="3.40" height="3.40" fill="#ff7300"/>
<rect x="308.45" y="177.46" width="3.40" height="3.40" fill="#ff7300"/>
<rect x="314.92" y="175.45" width="3.40" height="3.40" fill="#ff7300"/>
<rect x="321.39" y="174.06" width="3.40" height="3.40" fill="#ff7300"/>
<rect x="327.86" y="173.44" width="3.40" height="3.40" fill="#ff7300"/>
<rect x="334.33" y="173.14" width="3.40" height="3.40" fill="#ff7300"/>
<rect x="340.80" y="173.14" width="3.40" height="3.40" fill="#ff7300"/>
<polyline points="213.10,223.97 219.57,223.66 226.04,223.19 232.51,222.58 238.98,221.80 245.45,220.72 251.92,219.33 258.39,218.09 264.86,217.17 271.33,215.62 277.80,213.77 284.27,212.53 290.74,211.14 297.21,209.13 303.68,206.82 310.15,204.65 316.62,202.34 323.09,200.95 329.56,199.40 336.03,197.86 342.50,195.85" fill="none" stroke="#1e0099" stroke-width="1.5" stroke-linejoin="round"/>
<circle cx="213.10" cy="223.97" r="1.60" fill="#1e0099"/>
<circle cx="219.57" cy="223.66" r="1.60" fill="#1e0099"/>
<circle cx="226.04" cy="223.19" r="1.60" fill="#1e0099"/>
<circle cx="232.51" cy="222.58" r="1.60" fill="#1e0099"/>
<circle cx="238.98" cy="221.80" r="1.60" fill="#1e0099"/>
<circle cx="245.45" cy="220.72" r="1.60" fill="#1e0099"/>
<circle cx="251.92" cy="219.33" r="1.60" fill="#1e0099"/>
<circle cx="258.39" cy="218.09" r="1.60" fill="#1e0099"/>
<circle cx="264.86" cy="217.17" r="1.60" fill="#1e0099"/>
<circle cx="271.33" cy="215.62" r="1.60" fill="#1e0099"/>
<circle cx="277.80" cy="213.77" r="1.60" fill="#1e0099"/>
<circle cx="284.27" cy="212.53" r="1.60" fill="#1e0099"/>
<circle cx="290.74" cy="211.14" r="1.60" fill="#1e0099"/>
<circle cx="297.21" cy="209.13" r="1.60" fill="#1e0099"/>
<circle cx="303.68" cy="206.82" r="1.60" fill="#1e0099"/>
<circle cx="310.15" cy="204.65" r="1.60" fill="#1e0099"/>
<circle cx="316.62" cy="202.34" r="1.60" fill="#1e0099"/>
<circle cx="323.09" cy="200.95" r="1.60" fill="#1e0099"/>
<circle cx="329.56" cy="199.40" r="1.60" fill="#1e0099"/>
<circle cx="336.03" cy="197.86" r="1.60" fill="#1e0099"/>
<circle cx="342.50" cy="195.85" r="1.60" fill="#1e0099"/>
<polyline points="213.10,223.04 219.57,222.95 226.04,222.82 232.51,222.69 238.98,222.55 245.45,222.40 251.92,222.24 258.39,222.07 264.86,221.91 271.33,221.74 277.80,221.56 284.27,221.38 290.74,221.20 297.21,221.01 303.68,220.82 310.15,220.63 316.62,220.44 323.09,220.24 329.56,220.04 336.03,219.84 342.50,219.64" fill="none" stroke="#33ff00" stroke-width="1.5" stroke-linejoin="round"/>
<polygon points="213.10,221.14 215.00,223.04 213.10,224.94 211.20,223.04" fill="#33ff00"/>
<polygon points="219.57,221.05 221.47,222.95 219.57,224.85 217.67,222.95" fill="#33ff00"/>
<polygon points="226.04,220.92 227.94,222.82 226.04,224.72 224.14,222.82" fill="#33ff00"/>
<polygon points="232.51,220.79 234.41,222.69 232.51,224.59 230.61,222.69" fill="#33ff00"/>
<polygon points="238.98,220.65 240.88,222.55 238.98,224.45 237.08,222.55" fill="#33ff00"/>
<polygon points="245.45,220.50 247.35,222.40 245.45,224.30 243.55,222.40" fill="#33ff00"/>
<polygon points="251.92,220.34 253.82,222.24 251.92,224.14 250.02,222.24" fill="#33ff00"/>
<polygon points="258.39,220.17 260.29,222.07 258.39,223.97 256.49,222.07" fill="#33ff00"/>
<polygon points="264.86,220.01 266.76,221.91 264.86,223.81 262.96,221.91" fill="#33ff00"/>
<polygon points="271.33,219.84 273.23,221.74 271.33,223.64 269.43,221.74" fill="#33ff00"/>
<polygon points="277.80,219.66 279.70,221.56 277.80,223.46 275.90,221.56" fill="#33ff00"/>
<polygon points="284.27,219.48 286.17,221.38 284.27,223.28 282.37,221.38" fill="#33ff00"/>
<polygon points="290.74,219.30 292.64,221.20 290.74,223.10 288.84,221.20" fill="#33ff00"/>
<polygon points="297.21,219.11 299.11,221.01 297.21,222.91 295.31,221.01" fill="#33ff00"/>
<polygon points="303.68,218.92 305.58,220.82 303.68,222.72 301.78,220.82" fill="#33ff00"/>
<polygon points="310.15,218.73 312.05,220.63 310.15,222.53 308.25,220.63" fill="#33ff00"/>
<polygon points="316.62,218.54 318.52,220.44 316.62,222.34 314.72,220.44" fill="#33ff00"/>
<polygon points="323.09,218.34 324.99,220.24 323.09,222.14 321.19,220.24" fill="#33ff00"/>
<polygon points="329.56,218.14 331.46,220.04 329.56,221.94 327.66,220.04" fill="#33ff00"/>
<polygon points="336.03,217.94 337.93,219.84 336.03,221.74 334.13,219.84" fill="#33ff00"/>
<polygon points="342.50,217.74 344.40,219.64 342.50,221.54 340.60,219.64" fill="#33ff00"/>
<polyline points="213.10,222.88 219.57,221.96 226.04,220.88 232.51,217.79 238.98,211.91 245.45,198.63 251.92,180.09 258.39,168.35 264.86,166.34 271.33,167.11 277.80,167.88 284.27,168.35 290.74,168.96 297.21,169.89 303.68,170.66 310.15,171.59 316.62,172.36 323.09,172.98 329.56,173.29 336.03,173.60 342.50,173.91" fill="none" stroke="#0b6b12" stroke-width="1.5" stroke-linejoin="round"/>
<circle cx="213.10" cy="222.88" r="1.60" fill="#0b6b12"/>
<circle cx="219.57" cy="221.96" r="1.60" fill="#0b6b12"/>
<circle cx="226.04" cy="220.88" r="1.60" fill="#0b6b12"/>
<circle cx="232.51" cy="217.79" r="1.60" fill="#0b6b12"/>
<circle cx="238.98" cy="211.91" r="1.60" fill="#0b6b12"/>
<circle cx="245.45" cy="198.63" r="1.60" fill="#0b6b12"/>
<circle cx="251.92" cy="180.09" r="1.60" fill="#0b6b12"/>
<circle cx="258.39" cy="168.35" r="1.60" fill="#0b6b12"/>
<circle cx="264.86" cy="166.34" r="1.60" fill="#0b6b12"/>
<circle cx="271.33" cy="167.11" r="1.60" fill="#0b6b12"/>
<circle cx="277.80" cy="167.88" r="1.60" fill="#0b6b12"/>
<circle cx="284.27" cy="168.35" r="1.60" fill="#0b6b12"/>
<circle cx="290.74" cy="168.96" r="1.60" fill="#0b6b12"/>
<circle cx="297.21" cy="169.89" r="1.60" fill="#0b6b12"/>
<circle cx="303.68" cy="170.66" r="1.60" fill="#0b6b12"/>
<circle cx="310.15" cy="171.59" r="1.60" fill="#0b6b12"/>
<circle cx="316.62" cy="172.36" r="1.60" fill="#0b6b12"/>
<circle cx="323.09" cy="172.98" r="1.60" fill="#0b6b12"/>
<circle cx="329.56" cy="173.29" r="1.60" fill="#0b6b12"/>
<circle cx="336.03" cy="173.60" r="1.60" fill="#0b6b12"/>
<circle cx="342.50" cy="173.91" r="1.60" fill="#0b6b12"/>
<polyline points="213.10,225.05 219.57,225.05 226.04,225.05 232.51,225.05 238.98,225.05 245.45,225.05 251.92,225.05 258.39,225.05 264.86,225.05 271.33,225.05 277.80,225.05 284.27,225.05 290.74,225.05 297.21,225.05 303.68,225.05 310.15,225.05 316.62,225.05 323.09,225.05 329.56,225.05 336.03,225.05 342.50,225.05" fill="none" stroke="#cc0016" stroke-width="1.5" stroke-linejoin="round"/>
<rect x="211.30" y="223.25" width="3.6" height="3.6" fill="#fff" stroke="#cc0016" stroke-width="1.4"/>
<rect x="217.77" y="223.25" width="3.6" height="3.6" fill="#fff" stroke="#cc0016" stroke-width="1.4"/>
<rect x="224.24" y="223.25" width="3.6" height="3.6" fill="#fff" stroke="#cc0016" stroke-width="1.4"/>
<rect x="230.71" y="223.25" width="3.6" height="3.6" fill="#fff" stroke="#cc0016" stroke-width="1.4"/>
<rect x="237.18" y="223.25" width="3.6" height="3.6" fill="#fff" stroke="#cc0016" stroke-width="1.4"/>
<rect x="243.65" y="223.25" width="3.6" height="3.6" fill="#fff" stroke="#cc0016" stroke-width="1.4"/>
<rect x="250.12" y="223.25" width="3.6" height="3.6" fill="#fff" stroke="#cc0016" stroke-width="1.4"/>
<rect x="256.59" y="223.25" width="3.6" height="3.6" fill="#fff" stroke="#cc0016" stroke-width="1.4"/>
<rect x="263.06" y="223.25" width="3.6" height="3.6" fill="#fff" stroke="#cc0016" stroke-width="1.4"/>
<rect x="269.53" y="223.25" width="3.6" height="3.6" fill="#fff" stroke="#cc0016" stroke-width="1.4"/>
<rect x="276.00" y="223.25" width="3.6" height="3.6" fill="#fff" stroke="#cc0016" stroke-width="1.4"/>
<rect x="282.47" y="223.25" width="3.6" height="3.6" fill="#fff" stroke="#cc0016" stroke-width="1.4"/>
<rect x="288.94" y="223.25" width="3.6" height="3.6" fill="#fff" stroke="#cc0016" stroke-width="1.4"/>
<rect x="295.41" y="223.25" width="3.6" height="3.6" fill="#fff" stroke="#cc0016" stroke-width="1.4"/>
<rect x="301.88" y="223.25" width="3.6" height="3.6" fill="#fff" stroke="#cc0016" stroke-width="1.4"/>
<rect x="308.35" y="223.25" width="3.6" height="3.6" fill="#fff" stroke="#cc0016" stroke-width="1.4"/>
<rect x="314.82" y="223.25" width="3.6" height="3.6" fill="#fff" stroke="#cc0016" stroke-width="1.4"/>
<rect x="321.29" y="223.25" width="3.6" height="3.6" fill="#fff" stroke="#cc0016" stroke-width="1.4"/>
<rect x="327.76" y="223.25" width="3.6" height="3.6" fill="#fff" stroke="#cc0016" stroke-width="1.4"/>
<rect x="334.23" y="223.25" width="3.6" height="3.6" fill="#fff" stroke="#cc0016" stroke-width="1.4"/>
<rect x="340.70" y="223.25" width="3.6" height="3.6" fill="#fff" stroke="#cc0016" stroke-width="1.4"/>
<polyline points="213.10,225.51 219.57,225.51 226.04,225.51 232.51,225.51 238.98,225.51 245.45,225.51 251.92,225.51 258.39,225.51 264.86,225.51 271.33,225.51 277.80,225.51 284.27,225.51 290.74,225.51 297.21,225.51 303.68,225.51 310.15,225.51 316.62,225.51 323.09,225.51 329.56,225.51 336.03,225.51 342.50,225.51" fill="none" stroke="#0a30a8" stroke-width="1.5" stroke-linejoin="round"/>
<polygon points="213.10,223.61 215.00,226.81 211.20,226.81" fill="#0a30a8"/>
<polygon points="219.57,223.61 221.47,226.81 217.67,226.81" fill="#0a30a8"/>
<polygon points="226.04,223.61 227.94,226.81 224.14,226.81" fill="#0a30a8"/>
<polygon points="232.51,223.61 234.41,226.81 230.61,226.81" fill="#0a30a8"/>
<polygon points="238.98,223.61 240.88,226.81 237.08,226.81" fill="#0a30a8"/>
<polygon points="245.45,223.61 247.35,226.81 243.55,226.81" fill="#0a30a8"/>
<polygon points="251.92,223.61 253.82,226.81 250.02,226.81" fill="#0a30a8"/>
<polygon points="258.39,223.61 260.29,226.81 256.49,226.81" fill="#0a30a8"/>
<polygon points="264.86,223.61 266.76,226.81 262.96,226.81" fill="#0a30a8"/>
<polygon points="271.33,223.61 273.23,226.81 269.43,226.81" fill="#0a30a8"/>
<polygon points="277.80,223.61 279.70,226.81 275.90,226.81" fill="#0a30a8"/>
<polygon points="284.27,223.61 286.17,226.81 282.37,226.81" fill="#0a30a8"/>
<polygon points="290.74,223.61 292.64,226.81 288.84,226.81" fill="#0a30a8"/>
<polygon points="297.21,223.61 299.11,226.81 295.31,226.81" fill="#0a30a8"/>
<polygon points="303.68,223.61 305.58,226.81 301.78,226.81" fill="#0a30a8"/>
<polygon points="310.15,223.61 312.05,226.81 308.25,226.81" fill="#0a30a8"/>
<polygon points="316.62,223.61 318.52,226.81 314.72,226.81" fill="#0a30a8"/>
<polygon points="323.09,223.61 324.99,226.81 321.19,226.81" fill="#0a30a8"/>
<polygon points="329.56,223.61 331.46,226.81 327.66,226.81" fill="#0a30a8"/>
<polygon points="336.03,223.61 337.93,226.81 334.13,226.81" fill="#0a30a8"/>
<polygon points="342.50,223.61 344.40,226.81 340.60,226.81" fill="#0a30a8"/>
<line x1="213.80" y1="153.30" x2="222.20" y2="153.30" stroke="#cc0016" stroke-width="1.8"/>
<rect x="216.20" y="151.50" width="3.6" height="3.6" fill="#fff" stroke="#cc0016" stroke-width="1.4"/>
<text x="225.40" y="155.58" font-size="6.5" text-anchor="start" fill="#0e0e0e" transform="translate(225.40 155.58) scale(1.07 1) translate(-225.40 -155.58)">None</text>
<line x1="213.80" y1="160.04" x2="222.20" y2="160.04" stroke="#0a30a8" stroke-width="1.8"/>
<polygon points="218.00,157.86 220.19,161.54 215.81,161.54" fill="#0a30a8"/>
<text x="225.40" y="162.32" font-size="6.5" text-anchor="start" fill="#0e0e0e" transform="translate(225.40 162.32) scale(1.07 1) translate(-225.40 -162.32)">FXII (only)</text>
<line x1="213.80" y1="166.78" x2="222.20" y2="166.78" stroke="#33ff00" stroke-width="1.8"/>
<polygon points="218.00,164.59 220.19,166.78 218.00,168.97 215.81,166.78" fill="#33ff00"/>
<text x="225.40" y="169.06" font-size="6.5" text-anchor="start" fill="#0e0e0e" transform="translate(225.40 169.06) scale(1.07 1) translate(-225.40 -169.06)">Buffer</text>
<line x1="213.80" y1="173.52" x2="222.20" y2="173.52" stroke="#1e0099" stroke-width="1.8"/>
<circle cx="218.00" cy="173.52" r="1.84" fill="#1e0099"/>
<text x="225.40" y="175.80" font-size="6.5" text-anchor="start" fill="#0e0e0e" transform="translate(225.40 175.80) scale(1.07 1) translate(-225.40 -175.80)">EV-20</text>
<line x1="213.80" y1="180.26" x2="222.20" y2="180.26" stroke="#ff7300" stroke-width="1.8"/>
<rect x="216.04" y="178.31" width="3.91" height="3.91" fill="#ff7300"/>
<text x="225.40" y="182.54" font-size="6.5" text-anchor="start" fill="#0e0e0e" transform="translate(225.40 182.54) scale(1.07 1) translate(-225.40 -182.54)">EV-40</text>
<line x1="213.80" y1="187.00" x2="222.20" y2="187.00" stroke="#0b6b12" stroke-width="1.8"/>
<circle cx="218.00" cy="187.00" r="1.84" fill="#0b6b12"/>
<text x="225.40" y="189.28" font-size="6.5" text-anchor="start" fill="#0e0e0e" transform="translate(225.40 189.28) scale(1.07 1) translate(-225.40 -189.28)">DS</text>
<text x="363.30" y="146.30" font-size="10" text-anchor="start" fill="#000" font-weight="bold" transform="translate(363.30 146.30) scale(1.1 1) translate(-363.30 -146.30)">F</text>
<text x="385.20" y="175.21" font-size="6.6" text-anchor="middle" fill="#0e0e0e" transform="translate(385.20 175.21) scale(1.07 1) translate(-385.20 -175.21)">(kDa)</text>
<rect x="394.60" y="177.70" width="70.40" height="60.90" fill="#a6a6a6"/>
<g filter="url(#blur)">
<rect x="395.60" y="190.10" width="8.80" height="3.40" rx="1.2" fill="#000" fill-opacity="0.85"/>
<rect x="415.40" y="188.50" width="9.20" height="5.40" rx="1.2" fill="#000" fill-opacity="1.0"/>
<rect x="415.40" y="196.00" width="9.20" height="5.00" rx="1.2" fill="#000" fill-opacity="0.09"/>
<rect x="415.90" y="196.30" width="2.00" height="4.60" rx="1.2" fill="#000" fill-opacity="0.15"/>
<rect x="422.10" y="196.30" width="2.00" height="4.60" rx="1.2" fill="#000" fill-opacity="0.15"/>
<rect x="425.40" y="188.50" width="9.20" height="5.40" rx="1.2" fill="#000" fill-opacity="1.0"/>
<rect x="425.40" y="196.00" width="9.20" height="5.00" rx="1.2" fill="#000" fill-opacity="0.09"/>
<rect x="425.90" y="196.30" width="2.00" height="4.60" rx="1.2" fill="#000" fill-opacity="0.15"/>
<rect x="432.10" y="196.30" width="2.00" height="4.60" rx="1.2" fill="#000" fill-opacity="0.15"/>
<rect x="435.40" y="188.50" width="9.00" height="5.40" rx="1.2" fill="#000" fill-opacity="1.0"/>
<rect x="435.40" y="196.00" width="9.00" height="5.00" rx="1.2" fill="#000" fill-opacity="0.09"/>
<rect x="435.90" y="196.30" width="2.00" height="4.60" rx="1.2" fill="#000" fill-opacity="0.15"/>
<rect x="441.90" y="196.30" width="2.00" height="4.60" rx="1.2" fill="#000" fill-opacity="0.15"/>
<rect x="445.00" y="188.50" width="9.20" height="5.40" rx="1.2" fill="#000" fill-opacity="1.0"/>
<rect x="445.00" y="196.00" width="9.20" height="5.00" rx="1.2" fill="#000" fill-opacity="0.09"/>
<rect x="445.50" y="196.30" width="2.00" height="4.60" rx="1.2" fill="#000" fill-opacity="0.15"/>
<rect x="451.70" y="196.30" width="2.00" height="4.60" rx="1.2" fill="#000" fill-opacity="0.15"/>
<rect x="455.00" y="190.50" width="8.80" height="2.00" rx="1.2" fill="#000" fill-opacity="0.85"/>
<rect x="455.20" y="204.80" width="9.00" height="5.20" rx="1.2" fill="#000" fill-opacity="1.0"/>
<rect x="456.00" y="214.20" width="7.00" height="1.60" rx="1.2" fill="#000" fill-opacity="0.16"/>
<rect x="455.80" y="225.50" width="8.00" height="2.80" rx="1.2" fill="#000" fill-opacity="0.78"/>
<rect x="456.00" y="231.90" width="7.50" height="2.60" rx="1.2" fill="#000" fill-opacity="0.1"/>
<rect x="436.40" y="205.20" width="7.20" height="2.40" rx="1.2" fill="#000" fill-opacity="0.3"/>
<rect x="445.40" y="204.70" width="8.20" height="3.20" rx="1.2" fill="#000" fill-opacity="0.65"/>
<rect x="446.40" y="226.10" width="7.10" height="1.60" rx="1.2" fill="#000" fill-opacity="0.12"/>
<rect x="426.50" y="205.50" width="7.50" height="1.60" rx="1.2" fill="#000" fill-opacity="0.07"/>
</g>
<line x1="391.40" y1="183.10" x2="394.00" y2="183.10" stroke="#111" stroke-width="1.0"/>
<text x="390.40" y="185.41" font-size="6.6" text-anchor="end" fill="#0e0e0e" transform="translate(390.40 185.41) scale(1.07 1) translate(-390.40 -185.41)">130</text>
<line x1="391.40" y1="189.30" x2="394.00" y2="189.30" stroke="#111" stroke-width="1.0"/>
<text x="390.40" y="191.61" font-size="6.6" text-anchor="end" fill="#0e0e0e" transform="translate(390.40 191.61) scale(1.07 1) translate(-390.40 -191.61)">100</text>
<line x1="391.40" y1="196.00" x2="394.00" y2="196.00" stroke="#111" stroke-width="1.0"/>
<text x="390.40" y="198.31" font-size="6.6" text-anchor="end" fill="#0e0e0e" transform="translate(390.40 198.31) scale(1.07 1) translate(-390.40 -198.31)">70</text>
<line x1="391.40" y1="203.60" x2="394.00" y2="203.60" stroke="#111" stroke-width="1.0"/>
<text x="390.40" y="205.91" font-size="6.6" text-anchor="end" fill="#0e0e0e" transform="translate(390.40 205.91) scale(1.07 1) translate(-390.40 -205.91)">55</text>
<line x1="391.40" y1="220.00" x2="394.00" y2="220.00" stroke="#111" stroke-width="1.0"/>
<text x="390.40" y="222.31" font-size="6.6" text-anchor="end" fill="#0e0e0e" transform="translate(390.40 222.31) scale(1.07 1) translate(-390.40 -222.31)">35</text>
<line x1="391.40" y1="233.10" x2="394.00" y2="233.10" stroke="#111" stroke-width="1.0"/>
<text x="390.40" y="235.41" font-size="6.6" text-anchor="end" fill="#0e0e0e" transform="translate(390.40 235.41) scale(1.07 1) translate(-390.40 -235.41)">25</text>
<text x="403.20" y="175.20" font-size="6.9" text-anchor="start" fill="#0e0e0e" transform="rotate(-90 403.20 175.20)">FXII (25 ng)</text>
<text x="413.20" y="175.20" font-size="6.9" text-anchor="start" fill="#0e0e0e" transform="rotate(-90 413.20 175.20)">None</text>
<text x="422.50" y="175.20" font-size="6.9" text-anchor="start" fill="#0e0e0e" transform="rotate(-90 422.50 175.20)">FXII (only)</text>
<text x="431.80" y="175.20" font-size="6.9" text-anchor="start" fill="#0e0e0e" transform="rotate(-90 431.80 175.20)">Buffer</text>
<text x="462.00" y="175.20" font-size="6.9" text-anchor="start" fill="#0e0e0e" transform="rotate(-90 462.00 175.20)">DS</text>
<text x="445.00" y="153.78" font-size="6.8" text-anchor="middle" fill="#0e0e0e" transform="translate(445.00 153.78) scale(1.07 1) translate(-445.00 -153.78)">L3.6</text>
<text x="445.00" y="163.08" font-size="6.8" text-anchor="middle" fill="#0e0e0e" transform="translate(445.00 163.08) scale(1.07 1) translate(-445.00 -163.08)">EV</text>
<line x1="436.30" y1="166.10" x2="453.40" y2="166.10" stroke="#222" stroke-width="1.0"/>
<text x="440.40" y="175.75" font-size="7.3" text-anchor="middle" fill="#0e0e0e" transform="translate(440.40 175.75) scale(1.07 1) translate(-440.40 -175.75)">20</text>
<text x="448.90" y="175.75" font-size="7.3" text-anchor="middle" fill="#0e0e0e" transform="translate(448.90 175.75) scale(1.07 1) translate(-448.90 -175.75)">40</text>
<line x1="468.00" y1="191.00" x2="473.80" y2="191.00" stroke="#111" stroke-width="1.0"/>
<polygon points="466.4,191.00 469.4,189.40 469.4,192.60" fill="#111"/>
<text x="475.80" y="193.45" font-size="7.0" text-anchor="start" fill="#0e0e0e" transform="translate(475.80 193.45) scale(1.07 1) translate(-475.80 -193.45)">FXII</text>
<line x1="468.00" y1="206.60" x2="473.80" y2="206.60" stroke="#111" stroke-width="1.0"/>
<polygon points="466.4,206.60 469.4,205.00 469.4,208.20" fill="#111"/>
<text x="475.80" y="209.05" font-size="7.0" text-anchor="start" fill="#0e0e0e" transform="translate(475.80 209.05) scale(1.07 1) translate(-475.80 -209.05)">HC</text>
<line x1="468.00" y1="226.70" x2="473.80" y2="226.70" stroke="#111" stroke-width="1.0"/>
<polygon points="466.4,226.70 469.4,225.10 469.4,228.30" fill="#111"/>
<text x="475.80" y="229.15" font-size="7.0" text-anchor="start" fill="#0e0e0e" transform="translate(475.80 229.15) scale(1.07 1) translate(-475.80 -229.15)">LC</text>
<rect x="0.00" y="0.00" width="520.00" height="1.00" fill="#000"/>
<rect x="0.00" y="1.00" width="520.00" height="1.00" fill="#000" fill-opacity="0.3"/>
<rect x="0.00" y="0.00" width="1.00" height="272.00" fill="#000"/>
<rect x="1.00" y="0.00" width="1.00" height="272.00" fill="#000" fill-opacity="0.3"/>
<rect x="519.00" y="0.00" width="1.00" height="272.00" fill="#000"/>
<rect x="518.00" y="0.00" width="1.00" height="272.00" fill="#000" fill-opacity="0.5"/>
<rect x="0.00" y="271.00" width="520.00" height="1.00" fill="#000"/>
<rect x="0.00" y="270.00" width="520.00" height="1.00" fill="#000" fill-opacity="0.5"/>
</svg>
</body></html>
